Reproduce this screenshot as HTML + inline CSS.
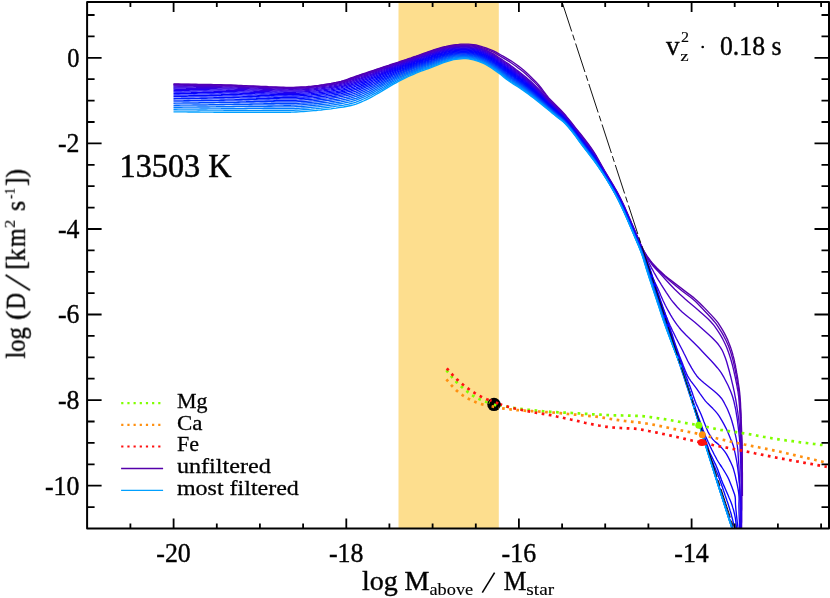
<!DOCTYPE html>
<html><head><meta charset="utf-8"><title>plot</title>
<style>html,body{margin:0;padding:0;background:#fff;}svg{display:block;}</style>
</head><body>
<svg width="830" height="598" viewBox="0 0 830 598">
<rect width="830" height="598" fill="#fff"/>
<rect x="398.5" y="1.9" width="100.3" height="526.6" fill="#fdde8e"/>
<g fill="none" stroke-width="1.35" stroke-linejoin="round">
<path d="M173.5 84.0 L176.0 84.0 L178.5 84.0 L181.0 84.1 L183.5 84.1 L186.0 84.1 L188.5 84.1 L191.0 84.2 L193.5 84.2 L196.0 84.2 L198.5 84.3 L201.0 84.3 L203.5 84.4 L206.0 84.4 L208.5 84.5 L211.0 84.5 L213.5 84.6 L216.0 84.6 L218.5 84.7 L221.0 84.7 L223.5 84.8 L226.0 84.9 L228.5 85.0 L231.0 85.0 L233.5 85.1 L236.0 85.2 L238.5 85.3 L241.0 85.4 L243.5 85.6 L246.0 85.7 L248.5 85.8 L251.0 85.9 L253.5 86.0 L256.0 86.1 L258.5 86.2 L261.0 86.3 L263.5 86.4 L266.0 86.5 L268.5 86.7 L271.0 86.8 L273.5 86.9 L276.0 87.0 L278.5 87.1 L281.0 87.2 L283.5 87.2 L286.0 87.3 L288.5 87.3 L291.0 87.3 L293.5 87.3 L296.0 87.2 L298.5 87.1 L301.0 87.0 L303.5 86.9 L306.0 86.8 L308.5 86.5 L311.0 86.3 L313.5 86.0 L316.0 85.6 L318.5 85.3 L321.0 84.9 L323.5 84.6 L326.0 84.2 L328.5 83.8 L331.0 83.4 L333.5 82.9 L336.0 82.4 L338.5 81.8 L341.0 81.3 L343.5 80.6 L346.0 79.8 L348.5 78.9 L351.0 78.0 L353.5 77.1 L356.0 76.2 L358.5 75.3 L361.0 74.5 L363.5 73.6 L366.0 72.8 L368.5 72.0 L371.0 71.1 L373.5 70.3 L376.0 69.5 L378.5 68.6 L381.0 67.8 L383.5 67.0 L386.0 66.2 L388.5 65.4 L391.0 64.5 L393.5 63.7 L396.0 62.9 L398.5 62.1 L401.0 61.2 L403.5 60.4 L406.0 59.6 L408.5 58.7 L411.0 57.9 L413.5 57.0 L416.0 56.2 L418.5 55.3 L421.0 54.4 L423.5 53.5 L426.0 52.6 L428.5 51.7 L431.0 50.8 L433.5 50.0 L436.0 49.2 L438.5 48.4 L441.0 47.7 L443.5 47.0 L446.0 46.5 L448.5 45.9 L451.0 45.4 L453.5 45.0 L456.0 44.7 L458.5 44.5 L461.0 44.2 L463.5 44.1 L466.0 44.1 L468.5 44.2 L471.0 44.4 L473.5 44.6 L476.0 45.0 L478.5 45.6 L481.0 46.3 L483.5 47.2 L486.0 48.0 L488.5 48.9 L491.0 49.8 L493.5 50.9 L496.0 52.2 L498.5 53.6 L501.0 55.0 L503.5 56.4 L506.0 57.8 L508.5 59.3 L511.0 60.8 L513.5 62.5 L516.0 64.3 L518.5 66.1 L521.0 68.0 L523.5 70.0 L526.0 72.2 L528.5 74.5 L531.0 76.9 L533.5 79.4 L536.0 81.9 L538.5 84.7 L541.0 87.7 L543.5 91.1 L546.0 94.5 L548.5 97.7 L551.0 100.3 L553.5 102.8 L556.0 105.2 L558.5 107.7 L561.0 110.2 L563.5 112.9 L566.0 115.8 L568.5 118.9 L571.0 122.0 L573.5 125.2 L576.0 128.3 L578.5 131.4 L581.0 134.5 L583.5 137.7 L586.0 140.9 L588.5 144.2 L591.0 147.7 L593.5 151.4 L596.0 155.4 L597.4 157.9 L598.8 160.4 L600.2 162.9 L601.6 165.4 L603.0 167.9 L604.4 170.4 L605.9 172.9 L607.4 175.4 L608.9 177.9 L610.4 180.4 L611.9 182.9 L613.4 185.4 L614.8 187.9 L616.3 190.4 L617.7 192.9 L619.0 195.4 L620.3 197.9 L621.5 200.4 L622.7 202.9 L623.9 205.4 L625.1 207.9 L626.2 210.4 L627.3 212.9 L628.4 215.4 L629.5 217.9 L630.6 220.4 L631.6 222.9 L632.7 225.4 L633.8 227.9 L634.9 230.4 L636.0 232.9 L637.1 235.4 L638.1 237.9 L639.2 240.4 L640.2 242.9 L641.3 245.4 L642.5 247.9 L643.6 250.4 L645.0 252.9 L646.6 255.4 L648.4 257.9 L650.2 260.4 L652.2 262.9 L654.5 265.4 L656.9 267.9 L659.5 270.4 L662.2 272.9 L664.9 275.4 L667.9 277.9 L671.0 280.4 L674.2 282.9 L677.5 285.4 L680.8 287.9 L684.0 290.4 L687.3 292.9 L690.7 295.4 L694.0 297.9 L696.9 300.4 L699.6 302.9 L702.1 305.4 L704.5 307.9 L706.9 310.4 L709.2 312.9 L711.6 315.4 L713.9 317.9 L716.1 320.4 L718.1 322.9 L719.7 325.4 L721.3 327.9 L722.8 330.4 L724.2 332.9 L725.5 335.4 L726.7 337.9 L727.9 340.4 L728.9 342.9 L729.9 345.4 L730.8 347.9 L731.6 350.4 L732.4 352.9 L733.0 355.4 L733.7 357.9 L734.3 360.4 L734.8 362.9 L735.4 365.4 L735.8 367.9 L736.3 370.4 L736.7 372.9 L737.2 375.4 L737.6 377.9 L738.0 380.4 L738.3 382.9 L738.7 385.4 L739.1 387.9 L739.4 390.4 L739.7 392.9 L739.9 395.4 L740.1 397.9 L740.3 400.4 L740.5 402.9 L740.6 405.4 L740.7 407.9 L740.9 410.4 L741.0 412.9 L741.1 415.4 L741.1 417.9 L741.2 420.4 L741.3 422.9 L741.4 425.4 L741.5 427.9 L741.6 430.4 L741.7 432.9 L741.8 435.4 L741.9 437.9 L742.0 440.4 L742.1 442.9 L742.1 445.4 L742.2 447.9 L742.2 450.4 L742.2 452.9 L742.2 455.4 L742.3 457.9 L742.3 460.4 L742.3 462.9 L742.3 465.4 L742.3 467.9 L742.3 470.4 L742.4 472.9 L742.4 475.4 L742.4 477.9 L742.4 480.4 L742.4 482.9 L742.4 485.4 L742.4 487.9 L742.4 490.4 L742.4 492.9 L742.4 495.4 L742.4 496.0" stroke="#5500aa"/>
<path d="M173.5 84.4 L176.0 84.4 L178.5 84.4 L181.0 84.5 L183.5 84.5 L186.0 84.5 L188.5 84.5 L191.0 84.6 L193.5 84.6 L196.0 84.6 L198.5 84.7 L201.0 84.7 L203.5 84.8 L206.0 84.8 L208.5 84.9 L211.0 84.9 L213.5 85.0 L216.0 85.0 L218.5 85.1 L221.0 85.2 L223.5 85.2 L226.0 85.3 L228.5 85.4 L231.0 85.4 L233.5 85.5 L236.0 85.6 L238.5 85.7 L241.0 85.8 L243.5 86.0 L246.0 86.1 L248.5 86.2 L251.0 86.3 L253.5 86.4 L256.0 86.5 L258.5 86.6 L261.0 86.7 L263.5 86.8 L266.0 87.0 L268.5 87.1 L271.0 87.2 L273.5 87.3 L276.0 87.4 L278.5 87.5 L281.0 87.6 L283.5 87.6 L286.0 87.7 L288.5 87.7 L291.0 87.7 L293.5 87.7 L296.0 87.6 L298.5 87.5 L301.0 87.4 L303.5 87.3 L306.0 87.2 L308.5 87.0 L311.0 86.7 L313.5 86.4 L316.0 86.1 L318.5 85.7 L321.0 85.4 L323.5 85.0 L326.0 84.6 L328.5 84.2 L331.0 83.8 L333.5 83.3 L336.0 82.8 L338.5 82.3 L341.0 81.7 L343.5 81.0 L346.0 80.2 L348.5 79.4 L351.0 78.5 L353.5 77.6 L356.0 76.7 L358.5 75.8 L361.0 75.0 L363.5 74.1 L366.0 73.3 L368.5 72.4 L371.0 71.6 L373.5 70.8 L376.0 69.9 L378.5 69.1 L381.0 68.2 L383.5 67.4 L386.0 66.6 L388.5 65.8 L391.0 64.9 L393.5 64.1 L396.0 63.3 L398.5 62.4 L401.0 61.6 L403.5 60.8 L406.0 59.9 L408.5 59.1 L411.0 58.3 L413.5 57.4 L416.0 56.6 L418.5 55.7 L421.0 54.8 L423.5 54.0 L426.0 53.1 L428.5 52.2 L431.0 51.3 L433.5 50.5 L436.0 49.7 L438.5 49.0 L441.0 48.2 L443.5 47.6 L446.0 47.0 L448.5 46.5 L451.0 46.0 L453.5 45.6 L456.0 45.3 L458.5 45.1 L461.0 44.9 L463.5 44.8 L466.0 44.8 L468.5 45.0 L471.0 45.2 L473.5 45.5 L476.0 45.8 L478.5 46.5 L481.0 47.3 L483.5 48.1 L486.0 49.1 L488.5 50.0 L491.0 51.1 L493.5 52.2 L496.0 53.6 L498.5 55.1 L501.0 56.6 L503.5 58.1 L506.0 59.6 L508.5 61.1 L511.0 62.7 L513.5 64.5 L516.0 66.3 L518.5 68.2 L521.0 70.0 L523.5 72.0 L526.0 74.2 L528.5 76.5 L531.0 78.9 L533.5 81.3 L536.0 83.9 L538.5 86.5 L541.0 89.5 L543.5 92.7 L546.0 95.9 L548.5 98.9 L551.0 101.5 L553.5 103.9 L556.0 106.3 L558.5 108.7 L561.0 111.2 L563.5 113.8 L566.0 116.7 L568.5 119.7 L571.0 122.8 L573.5 126.0 L576.0 129.1 L578.5 132.2 L581.0 135.4 L583.5 138.6 L586.0 141.8 L588.5 145.1 L591.0 148.6 L593.5 152.3 L596.0 156.2 L597.3 158.7 L598.8 161.2 L600.2 163.7 L601.6 166.2 L603.1 168.7 L604.5 171.2 L606.0 173.7 L607.5 176.2 L609.0 178.7 L610.5 181.2 L612.0 183.7 L613.5 186.2 L615.0 188.7 L616.4 191.2 L617.8 193.7 L619.1 196.2 L620.4 198.7 L621.6 201.2 L622.8 203.7 L624.0 206.2 L625.1 208.7 L626.3 211.2 L627.4 213.7 L628.4 216.2 L629.5 218.7 L630.6 221.2 L631.7 223.7 L632.8 226.2 L633.9 228.7 L635.0 231.2 L636.0 233.7 L637.1 236.2 L638.2 238.7 L639.2 241.2 L640.3 243.7 L641.5 246.2 L642.7 248.7 L643.9 251.2 L645.3 253.7 L646.8 256.2 L648.5 258.7 L650.4 261.2 L652.3 263.7 L654.6 266.2 L657.0 268.7 L659.5 271.2 L662.1 273.7 L664.7 276.2 L667.5 278.7 L670.3 281.2 L673.3 283.7 L676.3 286.2 L679.4 288.7 L682.5 291.2 L685.8 293.7 L689.2 296.2 L692.4 298.7 L695.3 301.2 L697.8 303.7 L700.2 306.2 L702.6 308.7 L704.9 311.2 L707.3 313.7 L709.6 316.2 L711.9 318.7 L714.0 321.2 L716.0 323.7 L717.7 326.2 L719.3 328.7 L720.9 331.2 L722.4 333.7 L723.8 336.2 L725.1 338.7 L726.4 341.2 L727.5 343.7 L728.6 346.2 L729.5 348.7 L730.4 351.2 L731.2 353.7 L731.9 356.2 L732.6 358.7 L733.2 361.2 L733.8 363.7 L734.3 366.2 L734.9 368.7 L735.4 371.2 L735.9 373.7 L736.3 376.2 L736.8 378.7 L737.2 381.2 L737.7 383.7 L738.1 386.2 L738.5 388.7 L738.8 391.2 L739.2 393.7 L739.5 396.2 L739.7 398.7 L739.9 401.2 L740.0 403.7 L740.2 406.2 L740.3 408.7 L740.4 411.2 L740.6 413.7 L740.7 416.2 L740.8 418.7 L740.9 421.2 L740.9 423.7 L741.0 426.2 L741.1 428.7 L741.2 431.2 L741.3 433.7 L741.4 436.2 L741.5 438.7 L741.6 441.2 L741.7 443.7 L741.7 446.2 L741.8 448.7 L741.8 451.2 L741.8 453.7 L741.9 456.2 L741.9 458.7 L741.9 461.2 L742.0 463.7 L742.0 466.2 L742.0 468.7 L742.0 471.2 L742.0 473.7 L742.1 476.2 L742.1 478.7 L742.1 481.2 L742.1 483.7 L742.1 486.2 L742.1 488.7 L742.1 491.2 L742.1 493.7 L742.1 496.0" stroke="#5300b3"/>
<path d="M173.5 85.1 L176.0 85.1 L178.5 85.1 L181.0 85.1 L183.5 85.2 L186.0 85.2 L188.5 85.2 L191.0 85.3 L193.5 85.3 L196.0 85.3 L198.5 85.4 L201.0 85.4 L203.5 85.4 L206.0 85.5 L208.5 85.5 L211.0 85.6 L213.5 85.7 L216.0 85.7 L218.5 85.8 L221.0 85.8 L223.5 85.9 L226.0 86.0 L228.5 86.1 L231.0 86.1 L233.5 86.2 L236.0 86.3 L238.5 86.4 L241.0 86.5 L243.5 86.6 L246.0 86.8 L248.5 86.9 L251.0 87.0 L253.5 87.1 L256.0 87.2 L258.5 87.3 L261.0 87.4 L263.5 87.5 L266.0 87.6 L268.5 87.7 L271.0 87.8 L273.5 87.9 L276.0 88.0 L278.5 88.1 L281.0 88.2 L283.5 88.3 L286.0 88.3 L288.5 88.4 L291.0 88.4 L293.5 88.3 L296.0 88.3 L298.5 88.2 L301.0 88.1 L303.5 88.0 L306.0 87.8 L308.5 87.6 L311.0 87.4 L313.5 87.1 L316.0 86.7 L318.5 86.4 L321.0 86.1 L323.5 85.7 L326.0 85.3 L328.5 84.9 L331.0 84.5 L333.5 84.1 L336.0 83.6 L338.5 83.0 L341.0 82.4 L343.5 81.8 L346.0 81.0 L348.5 80.2 L351.0 79.3 L353.5 78.4 L356.0 77.5 L358.5 76.6 L361.0 75.7 L363.5 74.9 L366.0 74.0 L368.5 73.2 L371.0 72.3 L373.5 71.5 L376.0 70.6 L378.5 69.8 L381.0 68.9 L383.5 68.1 L386.0 67.2 L388.5 66.4 L391.0 65.5 L393.5 64.7 L396.0 63.8 L398.5 63.0 L401.0 62.1 L403.5 61.3 L406.0 60.5 L408.5 59.7 L411.0 58.8 L413.5 58.0 L416.0 57.1 L418.5 56.3 L421.0 55.4 L423.5 54.6 L426.0 53.7 L428.5 52.8 L431.0 52.0 L433.5 51.2 L436.0 50.4 L438.5 49.6 L441.0 48.9 L443.5 48.3 L446.0 47.7 L448.5 47.2 L451.0 46.7 L453.5 46.3 L456.0 46.0 L458.5 45.8 L461.0 45.6 L463.5 45.5 L466.0 45.6 L468.5 45.7 L471.0 46.0 L473.5 46.3 L476.0 46.7 L478.5 47.3 L481.0 48.2 L483.5 49.1 L486.0 50.1 L488.5 51.3 L491.0 52.6 L493.5 53.9 L496.0 55.5 L498.5 57.2 L501.0 58.9 L503.5 60.6 L506.0 62.2 L508.5 63.9 L511.0 65.7 L513.5 67.5 L516.0 69.5 L518.5 71.4 L521.0 73.3 L523.5 75.2 L526.0 77.2 L528.5 79.4 L531.0 81.6 L533.5 84.0 L536.0 86.4 L538.5 88.9 L541.0 91.5 L543.5 94.3 L546.0 97.2 L548.5 99.8 L551.0 102.3 L553.5 104.7 L556.0 107.1 L558.5 109.4 L561.0 111.9 L563.5 114.5 L566.0 117.3 L568.5 120.3 L571.0 123.4 L573.5 126.6 L576.0 129.7 L578.5 132.9 L581.0 136.0 L583.5 139.2 L586.0 142.5 L588.5 145.8 L591.0 149.2 L593.5 152.9 L596.0 156.7 L597.3 159.2 L598.8 161.7 L600.2 164.2 L601.7 166.7 L603.1 169.2 L604.6 171.7 L606.1 174.2 L607.6 176.7 L609.1 179.2 L610.7 181.7 L612.1 184.2 L613.6 186.7 L615.1 189.2 L616.5 191.7 L617.9 194.2 L619.2 196.7 L620.4 199.2 L621.7 201.7 L622.9 204.2 L624.0 206.7 L625.2 209.2 L626.3 211.7 L627.4 214.2 L628.5 216.7 L629.6 219.2 L630.7 221.7 L631.7 224.2 L632.8 226.7 L633.9 229.2 L635.0 231.7 L636.1 234.2 L637.1 236.7 L638.2 239.2 L639.3 241.7 L640.4 244.2 L641.6 246.7 L642.7 249.2 L643.9 251.7 L645.2 254.2 L646.6 256.7 L648.1 259.2 L649.8 261.7 L651.7 264.2 L653.8 266.7 L656.1 269.2 L658.5 271.7 L660.8 274.2 L663.1 276.7 L665.3 279.2 L667.6 281.7 L669.9 284.2 L672.3 286.7 L674.7 289.2 L677.3 291.7 L679.9 294.2 L682.7 296.7 L685.4 299.2 L688.3 301.7 L691.3 304.2 L694.3 306.7 L697.2 309.2 L700.0 311.7 L702.9 314.2 L705.7 316.7 L708.4 319.2 L710.8 321.7 L713.0 324.2 L714.9 326.7 L716.6 329.2 L718.3 331.7 L719.9 334.2 L721.4 336.7 L722.8 339.2 L724.1 341.7 L725.3 344.2 L726.4 346.7 L727.4 349.2 L728.3 351.7 L729.2 354.2 L730.0 356.7 L730.8 359.2 L731.5 361.7 L732.2 364.2 L732.8 366.7 L733.4 369.2 L734.0 371.7 L734.5 374.2 L735.1 376.7 L735.6 379.2 L736.1 381.7 L736.6 384.2 L737.1 386.7 L737.5 389.2 L738.0 391.7 L738.3 394.2 L738.7 396.7 L738.9 399.2 L739.1 401.7 L739.3 404.2 L739.5 406.7 L739.7 409.2 L739.8 411.7 L740.0 414.2 L740.1 416.7 L740.2 419.2 L740.4 421.7 L740.5 424.2 L740.6 426.7 L740.7 429.2 L740.8 431.7 L740.9 434.2 L741.0 436.7 L741.1 439.2 L741.2 441.7 L741.3 444.2 L741.3 446.7 L741.4 449.2 L741.4 451.7 L741.5 454.2 L741.5 456.7 L741.5 459.2 L741.6 461.7 L741.6 464.2 L741.6 466.7 L741.7 469.2 L741.7 471.7 L741.7 474.2 L741.7 476.7 L741.8 479.2 L741.8 481.7 L741.8 484.2 L741.8 486.7 L741.8 489.2 L741.8 491.7 L741.8 494.2 L741.8 496.7 L741.8 499.2 L741.8 501.7 L741.8 504.2 L741.8 506.7 L741.8 509.2 L741.7 511.7 L741.7 514.2 L741.7 516.7 L741.7 519.2 L741.7 521.7 L741.6 524.2 L741.6 526.7 L741.6 528.5" stroke="#5100bc"/>
<path d="M173.5 85.9 L176.0 85.9 L178.5 86.0 L181.0 86.0 L183.5 86.0 L186.0 86.0 L188.5 86.1 L191.0 86.1 L193.5 86.2 L196.0 86.2 L198.5 86.2 L201.0 86.3 L203.5 86.3 L206.0 86.4 L208.5 86.4 L211.0 86.5 L213.5 86.5 L216.0 86.6 L218.5 86.6 L221.0 86.7 L223.5 86.8 L226.0 86.8 L228.5 86.9 L231.0 87.0 L233.5 87.1 L236.0 87.2 L238.5 87.3 L241.0 87.4 L243.5 87.5 L246.0 87.6 L248.5 87.7 L251.0 87.8 L253.5 87.9 L256.0 88.1 L258.5 88.2 L261.0 88.2 L263.5 88.3 L266.0 88.5 L268.5 88.6 L271.0 88.7 L273.5 88.8 L276.0 88.9 L278.5 89.0 L281.0 89.0 L283.5 89.1 L286.0 89.1 L288.5 89.2 L291.0 89.2 L293.5 89.2 L296.0 89.1 L298.5 89.0 L301.0 88.9 L303.5 88.8 L306.0 88.6 L308.5 88.4 L311.0 88.2 L313.5 87.9 L316.0 87.6 L318.5 87.2 L321.0 86.9 L323.5 86.5 L326.0 86.2 L328.5 85.8 L331.0 85.4 L333.5 84.9 L336.0 84.4 L338.5 83.9 L341.0 83.3 L343.5 82.6 L346.0 81.9 L348.5 81.1 L351.0 80.2 L353.5 79.3 L356.0 78.4 L358.5 77.5 L361.0 76.7 L363.5 75.8 L366.0 75.0 L368.5 74.1 L371.0 73.2 L373.5 72.4 L376.0 71.5 L378.5 70.6 L381.0 69.7 L383.5 68.9 L386.0 68.0 L388.5 67.1 L391.0 66.3 L393.5 65.4 L396.0 64.5 L398.5 63.7 L401.0 62.8 L403.5 62.0 L406.0 61.1 L408.5 60.3 L411.0 59.5 L413.5 58.6 L416.0 57.8 L418.5 56.9 L421.0 56.1 L423.5 55.2 L426.0 54.4 L428.5 53.5 L431.0 52.7 L433.5 51.9 L436.0 51.1 L438.5 50.3 L441.0 49.6 L443.5 49.0 L446.0 48.4 L448.5 47.9 L451.0 47.4 L453.5 47.0 L456.0 46.7 L458.5 46.5 L461.0 46.4 L463.5 46.3 L466.0 46.3 L468.5 46.5 L471.0 46.8 L473.5 47.1 L476.0 47.5 L478.5 48.2 L481.0 49.0 L483.5 50.0 L486.0 51.0 L488.5 52.2 L491.0 53.5 L493.5 54.9 L496.0 56.6 L498.5 58.3 L501.0 60.0 L503.5 61.7 L506.0 63.4 L508.5 65.1 L511.0 66.8 L513.5 68.7 L516.0 70.6 L518.5 72.5 L521.0 74.4 L523.5 76.3 L526.0 78.4 L528.5 80.5 L531.0 82.7 L533.5 85.0 L536.0 87.4 L538.5 89.9 L541.0 92.4 L543.5 95.2 L546.0 98.0 L548.5 100.6 L551.0 103.1 L553.5 105.4 L556.0 107.8 L558.5 110.1 L561.0 112.5 L563.5 115.0 L566.0 117.8 L568.5 120.8 L571.0 124.0 L573.5 127.1 L576.0 130.2 L578.5 133.4 L581.0 136.6 L583.5 139.8 L586.0 143.1 L588.5 146.4 L591.0 149.8 L593.5 153.4 L596.0 157.3 L597.3 159.8 L598.8 162.3 L600.3 164.8 L601.7 167.3 L603.2 169.8 L604.7 172.3 L606.2 174.8 L607.7 177.3 L609.2 179.8 L610.8 182.3 L612.2 184.8 L613.7 187.3 L615.2 189.8 L616.6 192.3 L617.9 194.8 L619.2 197.3 L620.5 199.8 L621.7 202.3 L622.9 204.8 L624.1 207.3 L625.2 209.8 L626.3 212.3 L627.4 214.8 L628.5 217.3 L629.6 219.8 L630.7 222.3 L631.8 224.8 L632.9 227.3 L634.0 229.8 L635.0 232.3 L636.1 234.8 L637.2 237.3 L638.2 239.8 L639.3 242.3 L640.4 244.8 L641.6 247.3 L642.8 249.8 L643.9 252.3 L645.0 254.8 L646.2 257.3 L647.4 259.8 L648.6 262.3 L649.9 264.8 L651.2 267.3 L652.6 269.8 L653.9 272.3 L655.4 274.8 L656.8 277.3 L658.3 279.8 L659.9 282.3 L661.4 284.8 L663.0 287.3 L664.6 289.8 L666.2 292.3 L667.9 294.8 L669.5 297.3 L671.3 299.8 L673.2 302.3 L675.3 304.8 L677.4 307.3 L679.8 309.8 L682.4 312.3 L685.4 314.8 L688.5 317.3 L691.7 319.8 L694.8 322.3 L697.7 324.8 L700.5 327.3 L703.3 329.8 L706.1 332.3 L708.9 334.8 L711.6 337.3 L714.1 339.8 L716.5 342.3 L718.6 344.8 L720.4 347.3 L721.9 349.8 L723.1 352.3 L724.1 354.8 L725.1 357.3 L726.0 359.8 L726.8 362.3 L727.5 364.8 L728.2 367.3 L728.9 369.8 L729.6 372.3 L730.2 374.8 L730.9 377.3 L731.5 379.8 L732.1 382.3 L732.7 384.8 L733.3 387.3 L733.8 389.8 L734.4 392.3 L734.8 394.8 L735.3 397.3 L735.8 399.8 L736.2 402.3 L736.6 404.8 L737.0 407.3 L737.4 409.8 L737.8 412.3 L738.1 414.8 L738.4 417.3 L738.8 419.8 L739.0 422.3 L739.3 424.8 L739.5 427.3 L739.7 429.8 L739.9 432.3 L740.2 434.8 L740.3 437.3 L740.5 439.8 L740.7 442.3 L740.8 444.8 L740.9 447.3 L741.0 449.8 L741.0 452.3 L741.1 454.8 L741.2 457.3 L741.2 459.8 L741.2 462.3 L741.3 464.8 L741.3 467.3 L741.4 469.8 L741.4 472.3 L741.4 474.8 L741.4 477.3 L741.5 479.8 L741.5 482.3 L741.5 484.8 L741.5 487.3 L741.5 489.8 L741.5 492.3 L741.5 494.8 L741.5 497.3 L741.5 499.8 L741.5 502.3 L741.5 504.8 L741.5 507.3 L741.5 509.8 L741.4 512.3 L741.4 514.8 L741.4 517.3 L741.4 519.8 L741.4 522.3 L741.3 524.8 L741.3 527.3 L741.3 528.5" stroke="#4800c7"/>
<path d="M173.5 86.9 L176.0 86.9 L178.5 87.0 L181.0 87.0 L183.5 87.0 L186.0 87.0 L188.5 87.1 L191.0 87.1 L193.5 87.1 L196.0 87.2 L198.5 87.2 L201.0 87.3 L203.5 87.3 L206.0 87.4 L208.5 87.4 L211.0 87.5 L213.5 87.5 L216.0 87.6 L218.5 87.6 L221.0 87.7 L223.5 87.8 L226.0 87.8 L228.5 87.9 L231.0 88.0 L233.5 88.1 L236.0 88.2 L238.5 88.3 L241.0 88.4 L243.5 88.5 L246.0 88.6 L248.5 88.7 L251.0 88.8 L253.5 88.9 L256.0 89.0 L258.5 89.1 L261.0 89.2 L263.5 89.3 L266.0 89.4 L268.5 89.5 L271.0 89.6 L273.5 89.7 L276.0 89.8 L278.5 89.9 L281.0 90.0 L283.5 90.0 L286.0 90.1 L288.5 90.1 L291.0 90.1 L293.5 90.1 L296.0 90.0 L298.5 89.9 L301.0 89.9 L303.5 89.7 L306.0 89.6 L308.5 89.4 L311.0 89.1 L313.5 88.8 L316.0 88.5 L318.5 88.2 L321.0 87.8 L323.5 87.5 L326.0 87.1 L328.5 86.8 L331.0 86.3 L333.5 85.9 L336.0 85.4 L338.5 84.9 L341.0 84.3 L343.5 83.7 L346.0 82.9 L348.5 82.1 L351.0 81.3 L353.5 80.4 L356.0 79.5 L358.5 78.6 L361.0 77.8 L363.5 76.9 L366.0 76.0 L368.5 75.1 L371.0 74.3 L373.5 73.4 L376.0 72.5 L378.5 71.6 L381.0 70.7 L383.5 69.8 L386.0 68.9 L388.5 68.0 L391.0 67.1 L393.5 66.2 L396.0 65.3 L398.5 64.4 L401.0 63.6 L403.5 62.7 L406.0 61.9 L408.5 61.0 L411.0 60.2 L413.5 59.4 L416.0 58.5 L418.5 57.7 L421.0 56.8 L423.5 56.0 L426.0 55.1 L428.5 54.3 L431.0 53.4 L433.5 52.7 L436.0 51.9 L438.5 51.1 L441.0 50.4 L443.5 49.7 L446.0 49.2 L448.5 48.6 L451.0 48.1 L453.5 47.7 L456.0 47.5 L458.5 47.3 L461.0 47.1 L463.5 47.0 L466.0 47.1 L468.5 47.3 L471.0 47.6 L473.5 47.9 L476.0 48.4 L478.5 49.0 L481.0 49.9 L483.5 50.8 L486.0 51.9 L488.5 53.1 L491.0 54.5 L493.5 55.9 L496.0 57.5 L498.5 59.3 L501.0 61.0 L503.5 62.7 L506.0 64.5 L508.5 66.2 L511.0 68.0 L513.5 69.8 L516.0 71.7 L518.5 73.6 L521.0 75.5 L523.5 77.4 L526.0 79.4 L528.5 81.5 L531.0 83.8 L533.5 86.0 L536.0 88.4 L538.5 90.8 L541.0 93.3 L543.5 96.1 L546.0 98.8 L548.5 101.4 L551.0 103.8 L553.5 106.1 L556.0 108.4 L558.5 110.7 L561.0 113.1 L563.5 115.6 L566.0 118.4 L568.5 121.4 L571.0 124.5 L573.5 127.6 L576.0 130.7 L578.5 134.0 L581.0 137.2 L583.5 140.4 L586.0 143.7 L588.5 147.0 L591.0 150.3 L593.5 153.9 L596.0 157.7 L597.3 160.2 L598.8 162.7 L600.3 165.2 L601.8 167.7 L603.3 170.2 L604.8 172.7 L606.3 175.2 L607.8 177.7 L609.3 180.2 L610.9 182.7 L612.3 185.2 L613.8 187.7 L615.2 190.2 L616.6 192.7 L618.0 195.2 L619.3 197.7 L620.6 200.2 L621.8 202.7 L623.0 205.2 L624.1 207.7 L625.3 210.2 L626.4 212.7 L627.5 215.2 L628.6 217.7 L629.7 220.2 L630.7 222.7 L631.8 225.2 L632.9 227.7 L634.0 230.2 L635.1 232.7 L636.1 235.2 L637.2 237.7 L638.3 240.2 L639.3 242.7 L640.5 245.2 L641.6 247.7 L642.8 250.2 L643.4 252.7 L644.1 255.2 L644.8 257.7 L645.6 260.2 L646.5 262.7 L647.4 265.2 L648.4 267.7 L649.4 270.2 L650.5 272.7 L651.6 275.2 L652.7 277.7 L653.9 280.2 L655.1 282.7 L656.3 285.2 L657.5 287.7 L658.6 290.2 L659.7 292.7 L660.7 295.2 L661.8 297.7 L662.9 300.2 L664.1 302.7 L665.3 305.2 L666.6 307.7 L667.9 310.2 L669.3 312.7 L670.7 315.2 L672.2 317.7 L673.8 320.2 L675.5 322.7 L677.3 325.2 L679.3 327.7 L681.4 330.2 L683.8 332.7 L686.2 335.2 L688.8 337.7 L691.3 340.2 L693.9 342.7 L696.4 345.2 L698.9 347.7 L701.2 350.2 L703.5 352.7 L705.9 355.2 L708.3 357.7 L710.7 360.2 L713.0 362.7 L715.2 365.2 L717.3 367.7 L719.3 370.2 L721.1 372.7 L722.6 375.2 L724.1 377.7 L725.4 380.2 L726.7 382.7 L728.0 385.2 L729.1 387.7 L730.2 390.2 L731.2 392.7 L732.1 395.2 L732.9 397.7 L733.6 400.2 L734.2 402.7 L734.7 405.2 L735.3 407.7 L735.8 410.2 L736.2 412.7 L736.6 415.2 L737.0 417.7 L737.4 420.2 L737.7 422.7 L738.0 425.2 L738.3 427.7 L738.6 430.2 L738.9 432.7 L739.1 435.2 L739.4 437.7 L739.6 440.2 L739.8 442.7 L740.0 445.2 L740.1 447.7 L740.2 450.2 L740.3 452.7 L740.4 455.2 L740.5 457.7 L740.6 460.2 L740.7 462.7 L740.8 465.2 L740.8 467.7 L740.9 470.2 L741.0 472.7 L741.0 475.2 L741.1 477.7 L741.1 480.2 L741.2 482.7 L741.2 485.2 L741.2 487.7 L741.2 490.2 L741.2 492.7 L741.2 495.2 L741.2 497.7 L741.2 500.2 L741.2 502.7 L741.2 505.2 L741.2 507.7 L741.2 510.2 L741.2 512.7 L741.1 515.2 L741.1 517.7 L741.1 520.2 L741.1 522.7 L741.0 525.2 L741.0 527.7 L741.0 528.5" stroke="#3c00d5"/>
<path d="M173.5 88.0 L176.0 88.0 L178.5 88.1 L181.0 88.1 L183.5 88.1 L186.0 88.2 L188.5 88.2 L191.0 88.2 L193.5 88.3 L196.0 88.3 L198.5 88.3 L201.0 88.4 L203.5 88.4 L206.0 88.5 L208.5 88.5 L211.0 88.6 L213.5 88.6 L216.0 88.7 L218.5 88.8 L221.0 88.8 L223.5 88.9 L226.0 88.9 L228.5 89.0 L231.0 89.1 L233.5 89.2 L236.0 89.3 L238.5 89.4 L241.0 89.5 L243.5 89.6 L246.0 89.7 L248.5 89.8 L251.0 89.9 L253.5 90.0 L256.0 90.1 L258.5 90.2 L261.0 90.3 L263.5 90.4 L266.0 90.5 L268.5 90.6 L271.0 90.7 L273.5 90.8 L276.0 90.8 L278.5 90.9 L281.0 91.0 L283.5 91.1 L286.0 91.1 L288.5 91.1 L291.0 91.1 L293.5 91.1 L296.0 91.1 L298.5 91.0 L301.0 90.9 L303.5 90.8 L306.0 90.6 L308.5 90.4 L311.0 90.1 L313.5 89.9 L316.0 89.5 L318.5 89.2 L321.0 88.9 L323.5 88.5 L326.0 88.2 L328.5 87.8 L331.0 87.4 L333.5 87.0 L336.0 86.5 L338.5 86.0 L341.0 85.4 L343.5 84.8 L346.0 84.0 L348.5 83.3 L351.0 82.4 L353.5 81.6 L356.0 80.7 L358.5 79.8 L361.0 78.9 L363.5 78.0 L366.0 77.2 L368.5 76.3 L371.0 75.4 L373.5 74.5 L376.0 73.5 L378.5 72.6 L381.0 71.7 L383.5 70.8 L386.0 69.9 L388.5 68.9 L391.0 68.0 L393.5 67.1 L396.0 66.2 L398.5 65.3 L401.0 64.4 L403.5 63.5 L406.0 62.7 L408.5 61.8 L411.0 61.0 L413.5 60.1 L416.0 59.3 L418.5 58.4 L421.0 57.6 L423.5 56.7 L426.0 55.9 L428.5 55.1 L431.0 54.2 L433.5 53.5 L436.0 52.7 L438.5 51.9 L441.0 51.1 L443.5 50.5 L446.0 49.9 L448.5 49.4 L451.0 48.9 L453.5 48.5 L456.0 48.2 L458.5 48.0 L461.0 47.8 L463.5 47.8 L466.0 47.8 L468.5 48.1 L471.0 48.4 L473.5 48.7 L476.0 49.2 L478.5 49.9 L481.0 50.8 L483.5 51.7 L486.0 52.8 L488.5 54.1 L491.0 55.4 L493.5 56.9 L496.0 58.5 L498.5 60.3 L501.0 62.0 L503.5 63.8 L506.0 65.5 L508.5 67.3 L511.0 69.0 L513.5 70.9 L516.0 72.8 L518.5 74.7 L521.0 76.5 L523.5 78.4 L526.0 80.4 L528.5 82.5 L531.0 84.7 L533.5 87.0 L536.0 89.3 L538.5 91.7 L541.0 94.2 L543.5 96.8 L546.0 99.5 L548.5 102.1 L551.0 104.4 L553.5 106.8 L556.0 109.0 L558.5 111.3 L561.0 113.6 L563.5 116.1 L566.0 118.9 L568.5 121.8 L571.0 124.9 L573.5 128.1 L576.0 131.2 L578.5 134.5 L581.0 137.7 L583.5 140.9 L586.0 144.2 L588.5 147.5 L591.0 150.9 L593.5 154.4 L596.0 158.2 L597.3 160.7 L598.8 163.2 L600.3 165.7 L601.8 168.2 L603.3 170.7 L604.9 173.2 L606.4 175.7 L607.9 178.2 L609.4 180.7 L610.9 183.2 L612.4 185.7 L613.9 188.2 L615.3 190.7 L616.7 193.2 L618.0 195.7 L619.3 198.2 L620.6 200.7 L621.8 203.2 L623.0 205.7 L624.2 208.2 L625.3 210.7 L626.4 213.2 L627.5 215.7 L628.6 218.2 L629.7 220.7 L630.8 223.2 L631.9 225.7 L632.9 228.2 L634.0 230.7 L635.1 233.2 L636.2 235.7 L637.2 238.2 L638.3 240.7 L639.4 243.2 L640.5 245.7 L641.7 248.2 L642.7 250.7 L643.3 253.2 L643.9 255.7 L644.5 258.2 L645.2 260.7 L645.9 263.2 L646.7 265.7 L647.5 268.2 L648.3 270.7 L649.2 273.2 L650.0 275.7 L650.9 278.2 L651.8 280.7 L652.7 283.2 L653.6 285.7 L654.6 288.2 L655.6 290.7 L656.6 293.2 L657.7 295.7 L658.8 298.2 L659.9 300.7 L660.9 303.2 L661.9 305.7 L662.9 308.2 L663.9 310.7 L664.9 313.2 L665.9 315.7 L667.0 318.2 L668.0 320.7 L669.1 323.2 L670.2 325.7 L671.4 328.2 L672.5 330.7 L673.8 333.2 L675.0 335.7 L676.2 338.2 L677.5 340.7 L678.8 343.2 L680.1 345.7 L681.4 348.2 L682.7 350.7 L683.9 353.2 L685.2 355.7 L686.4 358.2 L687.6 360.7 L688.9 363.2 L690.3 365.7 L691.7 368.2 L693.2 370.7 L694.8 373.2 L696.6 375.7 L698.8 378.2 L701.5 380.7 L704.4 383.2 L707.5 385.7 L710.6 388.2 L713.7 390.7 L716.6 393.2 L719.2 395.7 L721.4 398.2 L723.0 400.7 L724.4 403.2 L725.7 405.7 L727.0 408.2 L728.1 410.7 L729.1 413.2 L730.1 415.7 L731.0 418.2 L731.8 420.7 L732.5 423.2 L733.2 425.7 L733.8 428.2 L734.4 430.7 L735.0 433.2 L735.6 435.7 L736.1 438.2 L736.6 440.7 L737.0 443.2 L737.3 445.7 L737.6 448.2 L737.9 450.7 L738.1 453.2 L738.2 455.7 L738.4 458.2 L738.6 460.7 L738.7 463.2 L738.9 465.7 L739.0 468.2 L739.1 470.7 L739.2 473.2 L739.3 475.7 L739.4 478.2 L739.5 480.7 L739.6 483.2 L739.7 485.7 L739.7 488.2 L739.8 490.7 L739.9 493.2 L740.0 495.7 L740.0 498.2 L740.1 500.7 L740.2 503.2 L740.2 505.7 L740.3 508.2 L740.3 510.7 L740.4 513.2 L740.4 515.7 L740.5 518.2 L740.5 520.7 L740.6 523.2 L740.6 525.7 L740.6 528.2 L740.6 528.5" stroke="#3000e2"/>
<path d="M173.5 89.2 L176.0 89.3 L178.5 89.3 L181.0 89.3 L183.5 89.3 L186.0 89.4 L188.5 89.4 L191.0 89.4 L193.5 89.5 L196.0 89.5 L198.5 89.6 L201.0 89.6 L203.5 89.7 L206.0 89.7 L208.5 89.7 L211.0 89.8 L213.5 89.9 L216.0 89.9 L218.5 90.0 L221.0 90.0 L223.5 90.1 L226.0 90.2 L228.5 90.2 L231.0 90.3 L233.5 90.4 L236.0 90.5 L238.5 90.5 L241.0 90.6 L243.5 90.7 L246.0 90.8 L248.5 90.9 L251.0 91.1 L253.5 91.2 L256.0 91.2 L258.5 91.3 L261.0 91.4 L263.5 91.5 L266.0 91.6 L268.5 91.7 L271.0 91.8 L273.5 91.9 L276.0 92.0 L278.5 92.1 L281.0 92.1 L283.5 92.2 L286.0 92.2 L288.5 92.3 L291.0 92.3 L293.5 92.2 L296.0 92.2 L298.5 92.1 L301.0 92.0 L303.5 91.9 L306.0 91.7 L308.5 91.5 L311.0 91.2 L313.5 91.0 L316.0 90.7 L318.5 90.3 L321.0 90.0 L323.5 89.7 L326.0 89.3 L328.5 89.0 L331.0 88.6 L333.5 88.1 L336.0 87.6 L338.5 87.1 L341.0 86.6 L343.5 86.0 L346.0 85.3 L348.5 84.5 L351.0 83.7 L353.5 82.8 L356.0 82.0 L358.5 81.1 L361.0 80.2 L363.5 79.3 L366.0 78.4 L368.5 77.5 L371.0 76.6 L373.5 75.6 L376.0 74.7 L378.5 73.7 L381.0 72.8 L383.5 71.8 L386.0 70.9 L388.5 69.9 L391.0 69.0 L393.5 68.0 L396.0 67.1 L398.5 66.2 L401.0 65.3 L403.5 64.4 L406.0 63.5 L408.5 62.7 L411.0 61.8 L413.5 61.0 L416.0 60.1 L418.5 59.3 L421.0 58.4 L423.5 57.6 L426.0 56.7 L428.5 55.9 L431.0 55.1 L433.5 54.3 L436.0 53.5 L438.5 52.7 L441.0 51.9 L443.5 51.3 L446.0 50.7 L448.5 50.2 L451.0 49.7 L453.5 49.2 L456.0 49.0 L458.5 48.8 L461.0 48.6 L463.5 48.5 L466.0 48.6 L468.5 48.8 L471.0 49.2 L473.5 49.5 L476.0 50.0 L478.5 50.7 L481.0 51.6 L483.5 52.6 L486.0 53.7 L488.5 55.0 L491.0 56.3 L493.5 57.8 L496.0 59.5 L498.5 61.2 L501.0 63.0 L503.5 64.8 L506.0 66.6 L508.5 68.3 L511.0 70.1 L513.5 71.9 L516.0 73.8 L518.5 75.7 L521.0 77.5 L523.5 79.4 L526.0 81.4 L528.5 83.5 L531.0 85.7 L533.5 87.9 L536.0 90.2 L538.5 92.6 L541.0 95.0 L543.5 97.6 L546.0 100.2 L548.5 102.7 L551.0 105.1 L553.5 107.4 L556.0 109.6 L558.5 111.9 L561.0 114.2 L563.5 116.6 L566.0 119.3 L568.5 122.3 L571.0 125.4 L573.5 128.5 L576.0 131.7 L578.5 135.0 L581.0 138.2 L583.5 141.4 L586.0 144.7 L588.5 148.0 L591.0 151.4 L593.5 154.9 L596.0 158.6 L597.3 161.1 L598.8 163.6 L600.4 166.1 L601.9 168.6 L603.4 171.1 L605.0 173.6 L606.5 176.1 L608.0 178.6 L609.5 181.1 L611.0 183.6 L612.5 186.1 L614.0 188.6 L615.4 191.1 L616.8 193.6 L618.1 196.1 L619.4 198.6 L620.6 201.1 L621.9 203.6 L623.0 206.1 L624.2 208.6 L625.3 211.1 L626.4 213.6 L627.5 216.1 L628.6 218.6 L629.7 221.1 L630.8 223.6 L631.9 226.1 L633.0 228.6 L634.0 231.1 L635.1 233.6 L636.2 236.1 L637.2 238.6 L638.3 241.1 L639.4 243.6 L640.4 246.1 L641.5 248.6 L642.5 251.1 L643.6 253.6 L644.6 256.1 L645.7 258.6 L646.7 261.1 L647.8 263.6 L648.9 266.1 L649.9 268.6 L650.7 271.1 L651.6 273.6 L652.4 276.1 L653.2 278.6 L654.1 281.1 L654.9 283.6 L655.8 286.1 L656.6 288.6 L657.5 291.1 L658.3 293.6 L659.2 296.1 L660.0 298.6 L660.8 301.1 L661.7 303.6 L662.6 306.1 L663.4 308.6 L664.3 311.1 L665.2 313.6 L666.0 316.1 L666.9 318.6 L667.7 321.1 L668.6 323.6 L669.4 326.1 L670.2 328.6 L671.0 331.1 L671.8 333.6 L672.7 336.1 L673.5 338.6 L674.3 341.1 L675.1 343.6 L675.9 346.1 L676.8 348.6 L677.7 351.1 L678.6 353.6 L679.5 356.1 L680.5 358.6 L681.5 361.1 L682.5 363.6 L683.4 366.1 L684.4 368.6 L685.4 371.1 L686.5 373.6 L687.7 376.1 L689.2 378.6 L690.9 381.1 L692.8 383.6 L694.7 386.1 L696.6 388.6 L698.3 391.1 L700.0 393.6 L701.8 396.1 L703.6 398.6 L705.5 401.1 L707.8 403.6 L710.3 406.1 L712.9 408.6 L715.3 411.1 L717.4 413.6 L719.2 416.1 L720.7 418.6 L722.2 421.1 L723.6 423.6 L724.9 426.1 L726.2 428.6 L727.3 431.1 L728.4 433.6 L729.4 436.1 L730.4 438.6 L731.5 441.1 L732.5 443.6 L733.4 446.1 L734.1 448.6 L734.6 451.1 L735.2 453.6 L735.7 456.1 L736.2 458.6 L736.7 461.1 L737.1 463.6 L737.4 466.1 L737.8 468.6 L738.1 471.1 L738.4 473.6 L738.7 476.1 L738.9 478.6 L739.1 481.1 L739.4 483.6 L739.5 486.1 L739.7 488.6 L739.9 491.1 L740.0 493.6 L740.2 496.1 L740.5 498.6 L740.7 501.1 L740.9 503.6 L741.1 506.1 L741.2 508.6 L741.2 511.1 L741.3 513.6 L741.3 516.1 L741.3 518.6 L741.3 521.1 L741.2 523.6 L741.1 526.1 L741.0 528.5" stroke="#2400ed"/>
<path d="M173.5 90.5 L176.0 90.6 L178.5 90.6 L181.0 90.6 L183.5 90.7 L186.0 90.7 L188.5 90.7 L191.0 90.8 L193.5 90.8 L196.0 90.8 L198.5 90.9 L201.0 90.9 L203.5 91.0 L206.0 91.0 L208.5 91.1 L211.0 91.1 L213.5 91.2 L216.0 91.2 L218.5 91.3 L221.0 91.3 L223.5 91.4 L226.0 91.5 L228.5 91.5 L231.0 91.6 L233.5 91.7 L236.0 91.7 L238.5 91.8 L241.0 91.9 L243.5 92.0 L246.0 92.1 L248.5 92.2 L251.0 92.3 L253.5 92.4 L256.0 92.5 L258.5 92.6 L261.0 92.7 L263.5 92.7 L266.0 92.8 L268.5 92.9 L271.0 93.0 L273.5 93.1 L276.0 93.2 L278.5 93.3 L281.0 93.3 L283.5 93.4 L286.0 93.4 L288.5 93.5 L291.0 93.5 L293.5 93.4 L296.0 93.4 L298.5 93.3 L301.0 93.2 L303.5 93.1 L306.0 92.9 L308.5 92.7 L311.0 92.4 L313.5 92.2 L316.0 91.9 L318.5 91.6 L321.0 91.2 L323.5 90.9 L326.0 90.5 L328.5 90.2 L331.0 89.8 L333.5 89.3 L336.0 88.9 L338.5 88.4 L341.0 87.9 L343.5 87.2 L346.0 86.6 L348.5 85.8 L351.0 85.0 L353.5 84.2 L356.0 83.3 L358.5 82.4 L361.0 81.5 L363.5 80.6 L366.0 79.7 L368.5 78.8 L371.0 77.8 L373.5 76.9 L376.0 75.9 L378.5 74.9 L381.0 74.0 L383.5 73.0 L386.0 72.0 L388.5 71.0 L391.0 70.0 L393.5 69.0 L396.0 68.1 L398.5 67.1 L401.0 66.2 L403.5 65.3 L406.0 64.4 L408.5 63.5 L411.0 62.7 L413.5 61.8 L416.0 61.0 L418.5 60.1 L421.0 59.3 L423.5 58.4 L426.0 57.6 L428.5 56.7 L431.0 55.9 L433.5 55.1 L436.0 54.3 L438.5 53.5 L441.0 52.8 L443.5 52.1 L446.0 51.5 L448.5 50.9 L451.0 50.4 L453.5 50.0 L456.0 49.7 L458.5 49.5 L461.0 49.4 L463.5 49.3 L466.0 49.4 L468.5 49.6 L471.0 49.9 L473.5 50.3 L476.0 50.8 L478.5 51.6 L481.0 52.5 L483.5 53.4 L486.0 54.6 L488.5 55.9 L491.0 57.3 L493.5 58.7 L496.0 60.4 L498.5 62.2 L501.0 63.9 L503.5 65.8 L506.0 67.6 L508.5 69.4 L511.0 71.1 L513.5 72.9 L516.0 74.8 L518.5 76.6 L521.0 78.5 L523.5 80.3 L526.0 82.3 L528.5 84.4 L531.0 86.6 L533.5 88.8 L536.0 91.1 L538.5 93.4 L541.0 95.8 L543.5 98.3 L546.0 100.9 L548.5 103.4 L551.0 105.7 L553.5 108.0 L556.0 110.2 L558.5 112.4 L561.0 114.7 L563.5 117.1 L566.0 119.8 L568.5 122.7 L571.0 125.8 L573.5 128.9 L576.0 132.1 L578.5 135.4 L581.0 138.7 L583.5 141.9 L586.0 145.2 L588.5 148.5 L591.0 151.8 L593.5 155.4 L596.0 159.1 L597.3 161.6 L598.9 164.1 L600.4 166.6 L602.0 169.1 L603.5 171.6 L605.0 174.1 L606.6 176.6 L608.1 179.1 L609.6 181.6 L611.1 184.1 L612.6 186.6 L614.0 189.1 L615.5 191.6 L616.8 194.1 L618.2 196.6 L619.4 199.1 L620.7 201.6 L621.9 204.1 L623.1 206.6 L624.2 209.1 L625.4 211.6 L626.5 214.1 L627.6 216.6 L628.7 219.1 L629.8 221.6 L630.8 224.1 L631.9 226.6 L633.0 229.1 L634.1 231.6 L635.1 234.1 L636.2 236.6 L637.3 239.1 L638.3 241.6 L639.4 244.1 L640.4 246.6 L641.5 249.1 L642.5 251.6 L643.6 254.1 L644.6 256.6 L645.7 259.1 L646.7 261.6 L647.8 264.1 L648.8 266.6 L649.8 269.1 L650.6 271.6 L651.4 274.1 L652.2 276.6 L653.0 279.1 L653.9 281.6 L654.7 284.1 L655.5 286.6 L656.3 289.1 L657.2 291.6 L658.0 294.1 L658.8 296.6 L659.7 299.1 L660.5 301.6 L661.3 304.1 L662.1 306.6 L663.0 309.1 L663.8 311.6 L664.6 314.1 L665.5 316.6 L666.3 319.1 L667.1 321.6 L668.0 324.1 L668.8 326.6 L669.6 329.1 L670.5 331.6 L671.3 334.1 L672.2 336.6 L673.0 339.1 L673.8 341.6 L674.7 344.1 L675.5 346.6 L676.4 349.1 L677.2 351.6 L678.1 354.1 L678.9 356.6 L679.8 359.1 L680.7 361.6 L681.6 364.1 L682.5 366.6 L683.4 369.1 L684.3 371.6 L685.2 374.1 L686.1 376.6 L687.1 379.1 L688.0 381.6 L689.0 384.1 L690.0 386.6 L690.9 389.1 L691.8 391.6 L692.7 394.1 L693.5 396.6 L694.4 399.1 L695.3 401.6 L696.3 404.1 L697.5 406.6 L698.6 409.1 L699.8 411.6 L700.9 414.1 L701.9 416.6 L702.9 419.1 L703.8 421.6 L704.8 424.1 L705.8 426.6 L706.8 429.1 L707.9 431.6 L709.3 434.1 L710.9 436.6 L712.6 439.1 L715.0 441.6 L718.2 444.1 L720.6 446.6 L722.8 449.1 L724.8 451.6 L726.5 454.1 L727.9 456.6 L729.2 459.1 L730.4 461.6 L731.5 464.1 L732.6 466.6 L733.5 469.1 L734.2 471.6 L734.9 474.1 L735.5 476.6 L736.0 479.1 L736.6 481.6 L737.1 484.1 L737.6 486.6 L738.1 489.1 L738.5 491.6 L738.8 494.1 L739.0 496.6 L739.1 499.1 L739.0 501.6 L738.9 504.1 L738.9 506.6 L739.0 509.1 L739.0 511.6 L739.1 514.1 L739.2 516.6 L739.3 519.1 L739.4 521.6 L739.5 524.1 L739.6 526.6 L739.7 528.5" stroke="#1800f4"/>
<path d="M173.5 91.9 L176.0 92.0 L178.5 92.0 L181.0 92.0 L183.5 92.1 L186.0 92.1 L188.5 92.1 L191.0 92.2 L193.5 92.2 L196.0 92.2 L198.5 92.3 L201.0 92.3 L203.5 92.4 L206.0 92.4 L208.5 92.5 L211.0 92.5 L213.5 92.6 L216.0 92.6 L218.5 92.7 L221.0 92.7 L223.5 92.8 L226.0 92.8 L228.5 92.9 L231.0 93.0 L233.5 93.0 L236.0 93.1 L238.5 93.2 L241.0 93.3 L243.5 93.4 L246.0 93.5 L248.5 93.5 L251.0 93.6 L253.5 93.7 L256.0 93.8 L258.5 93.9 L261.0 94.0 L263.5 94.0 L266.0 94.1 L268.5 94.2 L271.0 94.3 L273.5 94.4 L276.0 94.5 L278.5 94.5 L281.0 94.6 L283.5 94.7 L286.0 94.7 L288.5 94.7 L291.0 94.7 L293.5 94.7 L296.0 94.6 L298.5 94.5 L301.0 94.4 L303.5 94.3 L306.0 94.1 L308.5 93.9 L311.0 93.7 L313.5 93.4 L316.0 93.1 L318.5 92.8 L321.0 92.5 L323.5 92.2 L326.0 91.8 L328.5 91.5 L331.0 91.1 L333.5 90.6 L336.0 90.2 L338.5 89.7 L341.0 89.2 L343.5 88.6 L346.0 87.9 L348.5 87.2 L351.0 86.4 L353.5 85.6 L356.0 84.7 L358.5 83.8 L361.0 82.9 L363.5 82.0 L366.0 81.1 L368.5 80.2 L371.0 79.2 L373.5 78.2 L376.0 77.2 L378.5 76.2 L381.0 75.2 L383.5 74.2 L386.0 73.1 L388.5 72.1 L391.0 71.1 L393.5 70.1 L396.0 69.1 L398.5 68.1 L401.0 67.2 L403.5 66.2 L406.0 65.4 L408.5 64.5 L411.0 63.6 L413.5 62.7 L416.0 61.8 L418.5 61.0 L421.0 60.1 L423.5 59.3 L426.0 58.4 L428.5 57.6 L431.0 56.8 L433.5 56.0 L436.0 55.2 L438.5 54.4 L441.0 53.6 L443.5 52.9 L446.0 52.3 L448.5 51.7 L451.0 51.2 L453.5 50.8 L456.0 50.5 L458.5 50.3 L461.0 50.1 L463.5 50.1 L466.0 50.1 L468.5 50.4 L471.0 50.7 L473.5 51.1 L476.0 51.6 L478.5 52.4 L481.0 53.3 L483.5 54.3 L486.0 55.4 L488.5 56.7 L491.0 58.2 L493.5 59.7 L496.0 61.3 L498.5 63.1 L501.0 64.9 L503.5 66.7 L506.0 68.6 L508.5 70.4 L511.0 72.1 L513.5 73.9 L516.0 75.8 L518.5 77.6 L521.0 79.4 L523.5 81.2 L526.0 83.2 L528.5 85.3 L531.0 87.4 L533.5 89.6 L536.0 91.9 L538.5 94.2 L541.0 96.5 L543.5 99.0 L546.0 101.6 L548.5 104.0 L551.0 106.3 L553.5 108.5 L556.0 110.8 L558.5 113.0 L561.0 115.2 L563.5 117.5 L566.0 120.2 L568.5 123.2 L571.0 126.2 L573.5 129.4 L576.0 132.6 L578.5 135.9 L581.0 139.2 L583.5 142.4 L586.0 145.7 L588.5 149.0 L591.0 152.3 L593.5 155.8 L596.0 159.5 L597.3 162.0 L598.9 164.5 L600.5 167.0 L602.0 169.5 L603.6 172.0 L605.1 174.5 L606.7 177.0 L608.2 179.5 L609.7 182.0 L611.2 184.5 L612.7 187.0 L614.1 189.5 L615.5 192.0 L616.9 194.5 L618.2 197.0 L619.5 199.5 L620.7 202.0 L621.9 204.5 L623.1 207.0 L624.3 209.5 L625.4 212.0 L626.5 214.5 L627.6 217.0 L628.7 219.5 L629.8 222.0 L630.9 224.5 L631.9 227.0 L633.0 229.5 L634.1 232.0 L635.2 234.5 L636.2 237.0 L637.3 239.5 L638.4 242.0 L639.4 244.5 L640.4 247.0 L641.5 249.5 L642.5 252.0 L643.6 254.5 L644.6 257.0 L645.7 259.5 L646.7 262.0 L647.7 264.5 L648.8 267.0 L649.7 269.5 L650.5 272.0 L651.3 274.5 L652.1 277.0 L653.0 279.5 L653.8 282.0 L654.6 284.5 L655.4 287.0 L656.2 289.5 L657.1 292.0 L657.9 294.5 L658.7 297.0 L659.5 299.5 L660.3 302.0 L661.1 304.5 L662.0 307.0 L662.8 309.5 L663.6 312.0 L664.4 314.5 L665.2 317.0 L666.1 319.5 L666.9 322.0 L667.7 324.5 L668.5 327.0 L669.3 329.5 L670.2 332.0 L671.0 334.5 L671.8 337.0 L672.6 339.5 L673.5 342.0 L674.3 344.5 L675.1 347.0 L675.9 349.5 L676.7 352.0 L677.6 354.5 L678.4 357.0 L679.2 359.5 L680.0 362.0 L680.9 364.5 L681.7 367.0 L682.5 369.5 L683.3 372.0 L684.2 374.5 L685.0 377.0 L685.8 379.5 L686.6 382.0 L687.5 384.5 L688.3 387.0 L689.1 389.5 L690.0 392.0 L690.8 394.5 L691.6 397.0 L692.4 399.5 L693.3 402.0 L694.1 404.5 L695.0 407.0 L695.8 409.5 L696.7 412.0 L697.5 414.5 L698.4 417.0 L699.3 419.5 L700.2 422.0 L701.1 424.5 L702.0 427.0 L702.9 429.5 L703.9 432.0 L704.9 434.5 L705.9 437.0 L707.1 439.5 L708.2 442.0 L709.4 444.5 L710.5 447.0 L711.7 449.5 L713.0 452.0 L714.2 454.5 L715.6 457.0 L716.9 459.5 L718.4 462.0 L720.0 464.5 L721.7 467.0 L723.3 469.5 L724.8 472.0 L726.3 474.5 L727.7 477.0 L728.9 479.5 L729.9 482.0 L730.9 484.5 L731.9 487.0 L732.8 489.5 L733.7 492.0 L734.6 494.5 L735.2 497.0 L735.4 499.5 L735.4 502.0 L735.5 504.5 L735.7 507.0 L735.9 509.5 L736.2 512.0 L736.4 514.5 L736.7 517.0 L737.0 519.5 L737.2 522.0 L737.6 524.5 L737.9 527.0 L738.1 528.5" stroke="#0c00fb"/>
<path d="M173.5 93.4 L176.0 93.4 L178.5 93.5 L181.0 93.5 L183.5 93.5 L186.0 93.6 L188.5 93.6 L191.0 93.6 L193.5 93.7 L196.0 93.7 L198.5 93.8 L201.0 93.8 L203.5 93.8 L206.0 93.9 L208.5 93.9 L211.0 94.0 L213.5 94.0 L216.0 94.1 L218.5 94.1 L221.0 94.2 L223.5 94.2 L226.0 94.3 L228.5 94.3 L231.0 94.4 L233.5 94.5 L236.0 94.5 L238.5 94.6 L241.0 94.7 L243.5 94.8 L246.0 94.9 L248.5 95.0 L251.0 95.0 L253.5 95.1 L256.0 95.2 L258.5 95.3 L261.0 95.3 L263.5 95.4 L266.0 95.5 L268.5 95.6 L271.0 95.7 L273.5 95.7 L276.0 95.8 L278.5 95.9 L281.0 95.9 L283.5 96.0 L286.0 96.0 L288.5 96.1 L291.0 96.1 L293.5 96.0 L296.0 96.0 L298.5 95.9 L301.0 95.7 L303.5 95.6 L306.0 95.4 L308.5 95.2 L311.0 95.0 L313.5 94.7 L316.0 94.5 L318.5 94.2 L321.0 93.8 L323.5 93.5 L326.0 93.2 L328.5 92.8 L331.0 92.4 L333.5 92.0 L336.0 91.6 L338.5 91.1 L341.0 90.6 L343.5 90.0 L346.0 89.4 L348.5 88.6 L351.0 87.9 L353.5 87.1 L356.0 86.2 L358.5 85.3 L361.0 84.4 L363.5 83.5 L366.0 82.5 L368.5 81.6 L371.0 80.6 L373.5 79.6 L376.0 78.5 L378.5 77.5 L381.0 76.5 L383.5 75.4 L386.0 74.4 L388.5 73.3 L391.0 72.2 L393.5 71.2 L396.0 70.1 L398.5 69.1 L401.0 68.2 L403.5 67.2 L406.0 66.3 L408.5 65.4 L411.0 64.5 L413.5 63.6 L416.0 62.8 L418.5 61.9 L421.0 61.0 L423.5 60.2 L426.0 59.4 L428.5 58.5 L431.0 57.7 L433.5 56.9 L436.0 56.1 L438.5 55.2 L441.0 54.5 L443.5 53.8 L446.0 53.1 L448.5 52.6 L451.0 52.0 L453.5 51.6 L456.0 51.3 L458.5 51.1 L461.0 50.9 L463.5 50.8 L466.0 50.9 L468.5 51.2 L471.0 51.5 L473.5 51.9 L476.0 52.5 L478.5 53.2 L481.0 54.1 L483.5 55.1 L486.0 56.3 L488.5 57.6 L491.0 59.1 L493.5 60.6 L496.0 62.2 L498.5 64.0 L501.0 65.8 L503.5 67.7 L506.0 69.6 L508.5 71.4 L511.0 73.1 L513.5 74.9 L516.0 76.7 L518.5 78.5 L521.0 80.3 L523.5 82.2 L526.0 84.1 L528.5 86.2 L531.0 88.3 L533.5 90.5 L536.0 92.7 L538.5 95.0 L541.0 97.3 L543.5 99.7 L546.0 102.2 L548.5 104.6 L551.0 106.9 L553.5 109.1 L556.0 111.3 L558.5 113.5 L561.0 115.6 L563.5 118.0 L566.0 120.7 L568.5 123.6 L571.0 126.6 L573.5 129.8 L576.0 133.0 L578.5 136.3 L581.0 139.6 L583.5 142.9 L586.0 146.2 L588.5 149.4 L591.0 152.8 L593.5 156.2 L596.0 159.9 L597.4 162.4 L599.0 164.9 L600.5 167.4 L602.1 169.9 L603.6 172.4 L605.2 174.9 L606.7 177.4 L608.3 179.9 L609.8 182.4 L611.3 184.9 L612.7 187.4 L614.2 189.9 L615.6 192.4 L616.9 194.9 L618.3 197.4 L619.5 199.9 L620.8 202.4 L622.0 204.9 L623.2 207.4 L624.3 209.9 L625.4 212.4 L626.5 214.9 L627.6 217.4 L628.7 219.9 L629.8 222.4 L630.9 224.9 L632.0 227.4 L633.0 229.9 L634.1 232.4 L635.2 234.9 L636.2 237.4 L637.3 239.9 L638.4 242.4 L639.4 244.9 L640.5 247.4 L641.5 249.9 L642.5 252.4 L643.6 254.9 L644.6 257.4 L645.6 259.9 L646.7 262.4 L647.7 264.9 L648.8 267.4 L649.6 269.9 L650.4 272.4 L651.3 274.9 L652.1 277.4 L652.9 279.9 L653.7 282.4 L654.5 284.9 L655.3 287.4 L656.2 289.9 L657.0 292.4 L657.8 294.9 L658.6 297.4 L659.4 299.9 L660.3 302.4 L661.1 304.9 L661.9 307.4 L662.7 309.9 L663.5 312.4 L664.3 314.9 L665.2 317.4 L666.0 319.9 L666.8 322.4 L667.6 324.9 L668.4 327.4 L669.3 329.9 L670.1 332.4 L670.9 334.9 L671.7 337.4 L672.5 339.9 L673.4 342.4 L674.2 344.9 L675.0 347.4 L675.8 349.9 L676.6 352.4 L677.5 354.9 L678.3 357.4 L679.1 359.9 L679.9 362.4 L680.8 364.9 L681.6 367.4 L682.4 369.9 L683.2 372.4 L684.0 374.9 L684.9 377.4 L685.7 379.9 L686.5 382.4 L687.3 384.9 L688.2 387.4 L689.0 389.9 L689.8 392.4 L690.6 394.9 L691.5 397.4 L692.3 399.9 L693.1 402.4 L693.9 404.9 L694.8 407.4 L695.6 409.9 L696.4 412.4 L697.3 414.9 L698.1 417.4 L698.9 419.9 L699.7 422.4 L700.6 424.9 L701.4 427.4 L702.2 429.9 L703.1 432.4 L703.9 434.9 L704.7 437.4 L705.6 439.9 L706.4 442.4 L707.2 444.9 L708.1 447.4 L708.9 449.9 L709.8 452.4 L710.9 454.9 L712.1 457.4 L713.3 459.9 L714.5 462.4 L715.8 464.9 L716.9 467.4 L717.9 469.9 L718.8 472.4 L719.7 474.9 L720.6 477.4 L721.5 479.9 L722.5 482.4 L723.5 484.9 L724.7 487.4 L725.8 489.9 L726.9 492.4 L728.0 494.9 L729.0 497.4 L730.1 499.9 L731.1 502.4 L732.0 504.9 L732.7 507.4 L733.5 509.9 L734.1 512.4 L734.7 514.9 L735.2 517.4 L735.6 519.9 L735.9 522.4 L736.2 524.9 L736.4 527.4 L736.4 528.5" stroke="#0403ff"/>
<path d="M173.5 95.0 L176.0 95.0 L178.5 95.0 L181.0 95.1 L183.5 95.1 L186.0 95.1 L188.5 95.2 L191.0 95.2 L193.5 95.2 L196.0 95.3 L198.5 95.3 L201.0 95.3 L203.5 95.4 L206.0 95.4 L208.5 95.5 L211.0 95.5 L213.5 95.6 L216.0 95.6 L218.5 95.7 L221.0 95.7 L223.5 95.8 L226.0 95.8 L228.5 95.9 L231.0 95.9 L233.5 96.0 L236.0 96.0 L238.5 96.1 L241.0 96.2 L243.5 96.3 L246.0 96.3 L248.5 96.4 L251.0 96.5 L253.5 96.6 L256.0 96.7 L258.5 96.7 L261.0 96.8 L263.5 96.9 L266.0 96.9 L268.5 97.0 L271.0 97.1 L273.5 97.2 L276.0 97.2 L278.5 97.3 L281.0 97.3 L283.5 97.4 L286.0 97.4 L288.5 97.4 L291.0 97.4 L293.5 97.4 L296.0 97.3 L298.5 97.2 L301.0 97.1 L303.5 97.0 L306.0 96.8 L308.5 96.6 L311.0 96.4 L313.5 96.1 L316.0 95.8 L318.5 95.5 L321.0 95.2 L323.5 94.9 L326.0 94.6 L328.5 94.2 L331.0 93.8 L333.5 93.4 L336.0 93.0 L338.5 92.5 L341.0 92.0 L343.5 91.5 L346.0 90.8 L348.5 90.2 L351.0 89.4 L353.5 88.6 L356.0 87.8 L358.5 86.9 L361.0 86.0 L363.5 85.0 L366.0 84.1 L368.5 83.1 L371.0 82.1 L373.5 81.0 L376.0 79.9 L378.5 78.9 L381.0 77.8 L383.5 76.7 L386.0 75.6 L388.5 74.5 L391.0 73.4 L393.5 72.3 L396.0 71.2 L398.5 70.2 L401.0 69.2 L403.5 68.3 L406.0 67.3 L408.5 66.4 L411.0 65.5 L413.5 64.6 L416.0 63.7 L418.5 62.8 L421.0 62.0 L423.5 61.1 L426.0 60.3 L428.5 59.5 L431.0 58.6 L433.5 57.8 L436.0 57.0 L438.5 56.1 L441.0 55.3 L443.5 54.6 L446.0 54.0 L448.5 53.4 L451.0 52.8 L453.5 52.4 L456.0 52.1 L458.5 51.8 L461.0 51.7 L463.5 51.6 L466.0 51.7 L468.5 51.9 L471.0 52.3 L473.5 52.7 L476.0 53.3 L478.5 54.0 L481.0 55.0 L483.5 56.0 L486.0 57.2 L488.5 58.5 L491.0 60.0 L493.5 61.5 L496.0 63.2 L498.5 64.9 L501.0 66.8 L503.5 68.7 L506.0 70.6 L508.5 72.4 L511.0 74.1 L513.5 75.9 L516.0 77.7 L518.5 79.4 L521.0 81.2 L523.5 83.0 L526.0 85.0 L528.5 87.0 L531.0 89.1 L533.5 91.3 L536.0 93.5 L538.5 95.7 L541.0 98.0 L543.5 100.4 L546.0 102.8 L548.5 105.2 L551.0 107.4 L553.5 109.6 L556.0 111.8 L558.5 114.0 L561.0 116.1 L563.5 118.4 L566.0 121.1 L568.5 124.0 L571.0 127.0 L573.5 130.2 L576.0 133.4 L578.5 136.8 L581.0 140.1 L583.5 143.4 L586.0 146.6 L588.5 149.9 L591.0 153.2 L593.5 156.7 L596.0 160.3 L597.4 162.8 L599.0 165.3 L600.6 167.8 L602.2 170.3 L603.7 172.8 L605.3 175.3 L606.8 177.8 L608.4 180.3 L609.9 182.8 L611.4 185.3 L612.8 187.8 L614.2 190.3 L615.6 192.8 L617.0 195.3 L618.3 197.8 L619.6 200.3 L620.8 202.8 L622.0 205.3 L623.2 207.8 L624.3 210.3 L625.5 212.8 L626.6 215.3 L627.7 217.8 L628.8 220.3 L629.8 222.8 L630.9 225.3 L632.0 227.8 L633.1 230.3 L634.1 232.8 L635.2 235.3 L636.3 237.8 L637.3 240.3 L638.4 242.8 L639.4 245.3 L640.5 247.8 L641.5 250.3 L642.5 252.8 L643.6 255.3 L644.6 257.8 L645.6 260.3 L646.1 262.8 L647.1 265.3 L648.0 267.8 L648.9 270.3 L649.7 272.8 L650.5 275.3 L651.3 277.8 L652.1 280.3 L652.9 282.8 L653.8 285.3 L654.6 287.8 L655.4 290.3 L656.2 292.8 L657.0 295.3 L657.8 297.8 L658.7 300.3 L659.5 302.8 L660.3 305.3 L661.1 307.8 L661.9 310.3 L662.8 312.8 L663.6 315.3 L664.4 317.8 L665.2 320.3 L666.0 322.8 L666.8 325.3 L667.7 327.8 L668.5 330.3 L669.3 332.8 L670.1 335.3 L670.9 337.8 L671.8 340.3 L672.6 342.8 L673.4 345.3 L674.2 347.8 L675.0 350.3 L675.9 352.8 L676.7 355.3 L677.5 357.8 L678.3 360.3 L679.1 362.8 L680.0 365.3 L680.8 367.8 L681.6 370.3 L682.4 372.8 L683.3 375.3 L684.1 377.8 L684.9 380.3 L685.7 382.8 L686.5 385.3 L687.4 387.8 L688.2 390.3 L689.0 392.8 L689.8 395.3 L690.7 397.8 L691.5 400.3 L692.3 402.8 L693.1 405.3 L694.0 407.8 L694.8 410.3 L695.6 412.8 L696.4 415.3 L697.3 417.8 L698.1 420.3 L698.9 422.8 L699.7 425.3 L700.6 427.8 L701.4 430.3 L702.2 432.8 L703.1 435.3 L703.9 437.8 L704.7 440.3 L705.5 442.8 L706.4 445.3 L707.2 447.8 L708.0 450.3 L708.9 452.8 L709.8 455.3 L710.8 457.8 L711.8 460.3 L712.9 462.8 L713.9 465.3 L715.0 467.8 L716.0 470.3 L717.1 472.8 L718.1 475.3 L719.0 477.8 L719.9 480.3 L720.8 482.8 L721.7 485.3 L722.6 487.8 L723.4 490.3 L724.3 492.8 L725.1 495.3 L726.0 497.8 L726.8 500.3 L727.7 502.8 L728.5 505.3 L729.3 507.8 L730.0 510.3 L730.8 512.8 L731.5 515.3 L732.1 517.8 L732.8 520.3 L733.4 522.8 L734.0 525.3 L734.6 527.8 L734.8 528.5" stroke="#020aff"/>
<path d="M173.5 96.6 L176.0 96.6 L178.5 96.6 L181.0 96.7 L183.5 96.7 L186.0 96.7 L188.5 96.8 L191.0 96.8 L193.5 96.9 L196.0 96.9 L198.5 96.9 L201.0 97.0 L203.5 97.0 L206.0 97.0 L208.5 97.1 L211.0 97.1 L213.5 97.2 L216.0 97.2 L218.5 97.3 L221.0 97.3 L223.5 97.4 L226.0 97.4 L228.5 97.5 L231.0 97.5 L233.5 97.6 L236.0 97.6 L238.5 97.7 L241.0 97.8 L243.5 97.8 L246.0 97.9 L248.5 98.0 L251.0 98.0 L253.5 98.1 L256.0 98.2 L258.5 98.2 L261.0 98.3 L263.5 98.4 L266.0 98.4 L268.5 98.5 L271.0 98.6 L273.5 98.6 L276.0 98.7 L278.5 98.7 L281.0 98.8 L283.5 98.8 L286.0 98.9 L288.5 98.9 L291.0 98.9 L293.5 98.9 L296.0 98.8 L298.5 98.7 L301.0 98.6 L303.5 98.4 L306.0 98.2 L308.5 98.0 L311.0 97.8 L313.5 97.6 L316.0 97.3 L318.5 97.0 L321.0 96.7 L323.5 96.4 L326.0 96.0 L328.5 95.7 L331.0 95.3 L333.5 94.9 L336.0 94.5 L338.5 94.0 L341.0 93.6 L343.5 93.0 L346.0 92.4 L348.5 91.7 L351.0 91.0 L353.5 90.2 L356.0 89.4 L358.5 88.5 L361.0 87.6 L363.5 86.6 L366.0 85.6 L368.5 84.6 L371.0 83.6 L373.5 82.5 L376.0 81.4 L378.5 80.3 L381.0 79.2 L383.5 78.1 L386.0 76.9 L388.5 75.8 L391.0 74.6 L393.5 73.5 L396.0 72.4 L398.5 71.3 L401.0 70.3 L403.5 69.3 L406.0 68.4 L408.5 67.4 L411.0 66.5 L413.5 65.6 L416.0 64.7 L418.5 63.8 L421.0 62.9 L423.5 62.1 L426.0 61.2 L428.5 60.4 L431.0 59.6 L433.5 58.8 L436.0 57.9 L438.5 57.0 L441.0 56.2 L443.5 55.5 L446.0 54.8 L448.5 54.2 L451.0 53.6 L453.5 53.2 L456.0 52.8 L458.5 52.6 L461.0 52.4 L463.5 52.4 L466.0 52.4 L468.5 52.7 L471.0 53.1 L473.5 53.6 L476.0 54.1 L478.5 54.9 L481.0 55.8 L483.5 56.8 L486.0 58.0 L488.5 59.4 L491.0 60.8 L493.5 62.4 L496.0 64.1 L498.5 65.8 L501.0 67.7 L503.5 69.6 L506.0 71.5 L508.5 73.3 L511.0 75.1 L513.5 76.8 L516.0 78.6 L518.5 80.4 L521.0 82.1 L523.5 83.9 L526.0 85.9 L528.5 87.9 L531.0 90.0 L533.5 92.1 L536.0 94.3 L538.5 96.5 L541.0 98.7 L543.5 101.1 L546.0 103.4 L548.5 105.8 L551.0 108.0 L553.5 110.2 L556.0 112.3 L558.5 114.5 L561.0 116.6 L563.5 118.9 L566.0 121.5 L568.5 124.4 L571.0 127.4 L573.5 130.6 L576.0 133.8 L578.5 137.2 L581.0 140.5 L583.5 143.8 L586.0 147.1 L588.5 150.3 L591.0 153.6 L593.5 157.1 L596.0 160.7 L597.4 163.2 L599.0 165.7 L600.6 168.2 L602.2 170.7 L603.8 173.2 L605.4 175.7 L606.9 178.2 L608.4 180.7 L609.9 183.2 L611.4 185.7 L612.9 188.2 L614.3 190.7 L615.7 193.2 L617.0 195.7 L618.4 198.2 L619.6 200.7 L620.9 203.2 L622.0 205.7 L623.2 208.2 L624.4 210.7 L625.5 213.2 L626.6 215.7 L627.7 218.2 L628.8 220.7 L629.9 223.2 L630.9 225.7 L632.0 228.2 L633.1 230.7 L634.2 233.2 L635.2 235.7 L636.3 238.2 L637.4 240.7 L638.4 243.2 L639.6 245.7 L640.7 248.2 L641.7 250.7 L642.7 253.2 L643.7 255.7 L644.6 258.2 L645.5 260.7 L646.3 263.2 L647.1 265.7 L647.9 268.2 L648.7 270.7 L649.5 273.2 L650.3 275.7 L651.1 278.2 L651.9 280.7 L652.7 283.2 L653.6 285.7 L654.4 288.2 L655.2 290.7 L656.1 293.2 L656.9 295.7 L657.7 298.2 L658.6 300.7 L659.4 303.2 L660.2 305.7 L661.0 308.2 L661.8 310.7 L662.7 313.2 L663.5 315.7 L664.3 318.2 L665.2 320.7 L665.9 323.2 L666.7 325.7 L667.5 328.2 L668.4 330.7 L669.2 333.2 L670.1 335.7 L670.9 338.2 L671.8 340.7 L672.6 343.2 L673.5 345.7 L674.4 348.2 L675.3 350.7 L676.2 353.2 L677.2 355.7 L678.2 358.2 L679.1 360.7 L680.0 363.2 L680.9 365.7 L681.8 368.2 L682.7 370.7 L683.5 373.2 L684.4 375.7 L685.2 378.2 L686.0 380.7 L686.9 383.2 L687.7 385.7 L688.5 388.2 L689.3 390.7 L690.1 393.2 L690.9 395.7 L691.7 398.2 L692.4 400.7 L693.2 403.2 L694.0 405.7 L694.8 408.2 L695.5 410.7 L696.3 413.2 L697.1 415.7 L697.8 418.2 L698.6 420.7 L699.3 423.2 L700.1 425.7 L700.9 428.2 L701.6 430.7 L702.4 433.2 L703.1 435.7 L703.9 438.2 L704.7 440.7 L705.4 443.2 L706.2 445.7 L707.0 448.2 L707.8 450.7 L708.5 453.2 L709.3 455.7 L710.1 458.2 L710.9 460.7 L711.7 463.2 L712.5 465.7 L713.3 468.2 L714.1 470.7 L714.8 473.2 L715.6 475.7 L716.4 478.2 L717.2 480.7 L718.0 483.2 L718.8 485.7 L719.6 488.2 L720.4 490.7 L721.2 493.2 L722.0 495.7 L722.8 498.2 L723.6 500.7 L724.4 503.2 L725.2 505.7 L726.0 508.2 L726.8 510.7 L727.6 513.2 L728.4 515.7 L729.2 518.2 L730.0 520.7 L730.9 523.2 L731.7 525.7 L732.5 528.2 L732.6 528.5" stroke="#0111ff"/>
<path d="M173.5 98.3 L176.0 98.3 L178.5 98.3 L181.0 98.4 L183.5 98.4 L186.0 98.4 L188.5 98.5 L191.0 98.5 L193.5 98.5 L196.0 98.6 L198.5 98.6 L201.0 98.7 L203.5 98.7 L206.0 98.7 L208.5 98.8 L211.0 98.8 L213.5 98.8 L216.0 98.9 L218.5 98.9 L221.0 99.0 L223.5 99.0 L226.0 99.1 L228.5 99.1 L231.0 99.1 L233.5 99.2 L236.0 99.3 L238.5 99.3 L241.0 99.4 L243.5 99.4 L246.0 99.5 L248.5 99.6 L251.0 99.6 L253.5 99.7 L256.0 99.7 L258.5 99.8 L261.0 99.9 L263.5 99.9 L266.0 100.0 L268.5 100.0 L271.0 100.1 L273.5 100.2 L276.0 100.2 L278.5 100.3 L281.0 100.3 L283.5 100.3 L286.0 100.4 L288.5 100.4 L291.0 100.4 L293.5 100.4 L296.0 100.3 L298.5 100.2 L301.0 100.0 L303.5 99.9 L306.0 99.7 L308.5 99.5 L311.0 99.3 L313.5 99.1 L316.0 98.8 L318.5 98.5 L321.0 98.2 L323.5 97.9 L326.0 97.6 L328.5 97.2 L331.0 96.8 L333.5 96.5 L336.0 96.0 L338.5 95.6 L341.0 95.1 L343.5 94.6 L346.0 94.0 L348.5 93.4 L351.0 92.7 L353.5 91.9 L356.0 91.1 L358.5 90.2 L361.0 89.2 L363.5 88.2 L366.0 87.2 L368.5 86.2 L371.0 85.1 L373.5 84.0 L376.0 82.9 L378.5 81.7 L381.0 80.6 L383.5 79.4 L386.0 78.3 L388.5 77.1 L391.0 75.9 L393.5 74.7 L396.0 73.6 L398.5 72.5 L401.0 71.4 L403.5 70.4 L406.0 69.5 L408.5 68.5 L411.0 67.5 L413.5 66.6 L416.0 65.7 L418.5 64.8 L421.0 63.9 L423.5 63.0 L426.0 62.2 L428.5 61.4 L431.0 60.6 L433.5 59.7 L436.0 58.8 L438.5 57.9 L441.0 57.1 L443.5 56.3 L446.0 55.7 L448.5 55.0 L451.0 54.5 L453.5 54.0 L456.0 53.6 L458.5 53.4 L461.0 53.2 L463.5 53.1 L466.0 53.2 L468.5 53.5 L471.0 53.9 L473.5 54.4 L476.0 54.9 L478.5 55.7 L481.0 56.6 L483.5 57.7 L486.0 58.9 L488.5 60.2 L491.0 61.7 L493.5 63.3 L496.0 65.0 L498.5 66.7 L501.0 68.6 L503.5 70.5 L506.0 72.5 L508.5 74.3 L511.0 76.0 L513.5 77.8 L516.0 79.5 L518.5 81.2 L521.0 83.0 L523.5 84.8 L526.0 86.7 L528.5 88.7 L531.0 90.8 L533.5 92.9 L536.0 95.0 L538.5 97.2 L541.0 99.4 L543.5 101.7 L546.0 104.0 L548.5 106.3 L551.0 108.5 L553.5 110.7 L556.0 112.9 L558.5 115.0 L561.0 117.0 L563.5 119.3 L566.0 121.9 L568.5 124.8 L571.0 127.8 L573.5 130.9 L576.0 134.2 L578.5 137.6 L581.0 141.0 L583.5 144.2 L586.0 147.5 L588.5 150.8 L591.0 154.1 L593.5 157.5 L596.0 161.0 L597.5 163.5 L599.1 166.0 L600.7 168.5 L602.3 171.0 L603.9 173.5 L605.4 176.0 L607.0 178.5 L608.5 181.0 L610.0 183.5 L611.5 186.0 L613.0 188.5 L614.4 191.0 L615.8 193.5 L617.1 196.0 L618.4 198.5 L619.7 201.0 L620.9 203.5 L622.1 206.0 L623.3 208.5 L624.4 211.0 L625.5 213.5 L626.6 216.0 L627.7 218.5 L628.8 221.0 L629.9 223.5 L631.0 226.0 L632.0 228.5 L633.1 231.0 L634.2 233.5 L635.2 236.0 L636.3 238.5 L637.4 241.0 L638.5 243.5 L639.6 246.0 L640.7 248.5 L641.7 251.0 L642.7 253.5 L643.7 256.0 L644.5 258.5 L645.4 261.0 L646.2 263.5 L647.0 266.0 L647.8 268.5 L648.6 271.0 L649.4 273.5 L650.2 276.0 L651.0 278.5 L651.8 281.0 L652.6 283.5 L653.5 286.0 L654.3 288.5 L655.1 291.0 L656.0 293.5 L656.8 296.0 L657.6 298.5 L658.5 301.0 L659.3 303.5 L660.1 306.0 L660.9 308.5 L661.7 311.0 L662.6 313.5 L663.4 316.0 L664.2 318.5 L665.1 321.0 L665.8 323.5 L666.6 326.0 L667.5 328.5 L668.3 331.0 L669.2 333.5 L670.0 336.0 L670.9 338.5 L671.8 341.0 L672.7 343.5 L673.5 346.0 L674.4 348.5 L675.3 351.0 L676.3 353.5 L677.3 356.0 L678.2 358.5 L679.2 361.0 L680.1 363.5 L681.0 366.0 L681.9 368.5 L682.7 371.0 L683.6 373.5 L684.4 376.0 L685.3 378.5 L686.1 381.0 L686.9 383.5 L687.7 386.0 L688.5 388.5 L689.3 391.0 L690.1 393.5 L690.9 396.0 L691.7 398.5 L692.5 401.0 L693.3 403.5 L694.0 406.0 L694.8 408.5 L695.6 411.0 L696.3 413.5 L697.1 416.0 L697.9 418.5 L698.6 421.0 L699.4 423.5 L700.1 426.0 L700.9 428.5 L701.7 431.0 L702.4 433.5 L703.2 436.0 L703.9 438.5 L704.7 441.0 L705.5 443.5 L706.2 446.0 L707.0 448.5 L707.8 451.0 L708.6 453.5 L709.4 456.0 L710.2 458.5 L710.9 461.0 L711.7 463.5 L712.5 466.0 L713.3 468.5 L714.1 471.0 L714.9 473.5 L715.7 476.0 L716.5 478.5 L717.3 481.0 L718.1 483.5 L718.9 486.0 L719.7 488.5 L720.4 491.0 L721.2 493.5 L722.0 496.0 L722.8 498.5 L723.6 501.0 L724.4 503.5 L725.2 506.0 L726.1 508.5 L726.9 511.0 L727.7 513.5 L728.5 516.0 L729.3 518.5 L730.1 521.0 L730.9 523.5 L731.7 526.0 L732.5 528.5" stroke="#001fff"/>
<path d="M173.5 100.0 L176.0 100.1 L178.5 100.1 L181.0 100.1 L183.5 100.2 L186.0 100.2 L188.5 100.2 L191.0 100.3 L193.5 100.3 L196.0 100.3 L198.5 100.4 L201.0 100.4 L203.5 100.4 L206.0 100.5 L208.5 100.5 L211.0 100.5 L213.5 100.6 L216.0 100.6 L218.5 100.7 L221.0 100.7 L223.5 100.7 L226.0 100.8 L228.5 100.8 L231.0 100.9 L233.5 100.9 L236.0 100.9 L238.5 101.0 L241.0 101.0 L243.5 101.1 L246.0 101.2 L248.5 101.2 L251.0 101.3 L253.5 101.3 L256.0 101.4 L258.5 101.4 L261.0 101.5 L263.5 101.5 L266.0 101.6 L268.5 101.6 L271.0 101.7 L273.5 101.7 L276.0 101.8 L278.5 101.8 L281.0 101.9 L283.5 101.9 L286.0 101.9 L288.5 101.9 L291.0 101.9 L293.5 101.9 L296.0 101.8 L298.5 101.7 L301.0 101.6 L303.5 101.4 L306.0 101.3 L308.5 101.1 L311.0 100.8 L313.5 100.6 L316.0 100.3 L318.5 100.0 L321.0 99.7 L323.5 99.4 L326.0 99.1 L328.5 98.8 L331.0 98.4 L333.5 98.0 L336.0 97.6 L338.5 97.2 L341.0 96.7 L343.5 96.2 L346.0 95.7 L348.5 95.0 L351.0 94.3 L353.5 93.6 L356.0 92.8 L358.5 91.9 L361.0 90.9 L363.5 89.9 L366.0 88.9 L368.5 87.9 L371.0 86.7 L373.5 85.6 L376.0 84.4 L378.5 83.2 L381.0 82.1 L383.5 80.9 L386.0 79.6 L388.5 78.4 L391.0 77.2 L393.5 76.0 L396.0 74.8 L398.5 73.7 L401.0 72.6 L403.5 71.6 L406.0 70.6 L408.5 69.6 L411.0 68.6 L413.5 67.6 L416.0 66.7 L418.5 65.8 L421.0 64.9 L423.5 64.0 L426.0 63.2 L428.5 62.4 L431.0 61.5 L433.5 60.7 L436.0 59.8 L438.5 58.9 L441.0 58.0 L443.5 57.2 L446.0 56.5 L448.5 55.9 L451.0 55.3 L453.5 54.8 L456.0 54.4 L458.5 54.2 L461.0 54.0 L463.5 53.9 L466.0 54.0 L468.5 54.3 L471.0 54.7 L473.5 55.2 L476.0 55.7 L478.5 56.5 L481.0 57.5 L483.5 58.5 L486.0 59.7 L488.5 61.1 L491.0 62.6 L493.5 64.2 L496.0 65.8 L498.5 67.6 L501.0 69.5 L503.5 71.5 L506.0 73.4 L508.5 75.2 L511.0 77.0 L513.5 78.7 L516.0 80.4 L518.5 82.1 L521.0 83.9 L523.5 85.6 L526.0 87.6 L528.5 89.5 L531.0 91.6 L533.5 93.6 L536.0 95.8 L538.5 97.9 L541.0 100.1 L543.5 102.3 L546.0 104.6 L548.5 106.9 L551.0 109.1 L553.5 111.2 L556.0 113.3 L558.5 115.4 L561.0 117.5 L563.5 119.7 L566.0 122.3 L568.5 125.2 L571.0 128.2 L573.5 131.3 L576.0 134.6 L578.5 138.0 L581.0 141.4 L583.5 144.7 L586.0 147.9 L588.5 151.2 L591.0 154.5 L593.5 157.9 L596.0 161.4 L597.5 163.9 L599.2 166.4 L600.8 168.9 L602.4 171.4 L604.0 173.9 L605.5 176.4 L607.1 178.9 L608.6 181.4 L610.1 183.9 L611.6 186.4 L613.0 188.9 L614.4 191.4 L615.8 193.9 L617.1 196.4 L618.4 198.9 L619.7 201.4 L620.9 203.9 L622.1 206.4 L623.3 208.9 L624.4 211.4 L625.6 213.9 L626.7 216.4 L627.8 218.9 L628.8 221.4 L629.9 223.9 L631.0 226.4 L632.1 228.9 L633.1 231.4 L634.2 233.9 L635.3 236.4 L636.3 238.9 L637.4 241.4 L638.5 243.9 L639.6 246.4 L640.7 248.9 L641.7 251.4 L642.7 253.9 L643.6 256.4 L644.5 258.9 L645.3 261.4 L646.1 263.9 L646.9 266.4 L647.7 268.9 L648.4 271.4 L649.3 273.9 L650.1 276.4 L650.9 278.9 L651.7 281.4 L652.5 283.9 L653.4 286.4 L654.2 288.9 L655.0 291.4 L655.9 293.9 L656.7 296.4 L657.5 298.9 L658.4 301.4 L659.2 303.9 L660.0 306.4 L660.8 308.9 L661.6 311.4 L662.5 313.9 L663.3 316.4 L664.1 318.9 L665.0 321.4 L665.8 323.9 L666.6 326.4 L667.4 328.9 L668.3 331.4 L669.1 333.9 L670.0 336.4 L670.9 338.9 L671.8 341.4 L672.7 343.9 L673.6 346.4 L674.5 348.9 L675.4 351.4 L676.4 353.9 L677.3 356.4 L678.3 358.9 L679.2 361.4 L680.2 363.9 L681.1 366.4 L681.9 368.9 L682.8 371.4 L683.6 373.9 L684.5 376.4 L685.3 378.9 L686.1 381.4 L686.9 383.9 L687.8 386.4 L688.6 388.9 L689.4 391.4 L690.2 393.9 L691.0 396.4 L691.7 398.9 L692.5 401.4 L693.3 403.9 L694.1 406.4 L694.8 408.9 L695.6 411.4 L696.4 413.9 L697.1 416.4 L697.9 418.9 L698.7 421.4 L699.4 423.9 L700.2 426.4 L700.9 428.9 L701.7 431.4 L702.4 433.9 L703.2 436.4 L704.0 438.9 L704.7 441.4 L705.5 443.9 L706.3 446.4 L707.1 448.9 L707.8 451.4 L708.6 453.9 L709.4 456.4 L710.2 458.9 L711.0 461.4 L711.8 463.9 L712.6 466.4 L713.3 468.9 L714.1 471.4 L714.9 473.9 L715.7 476.4 L716.5 478.9 L717.3 481.4 L718.1 483.9 L718.9 486.4 L719.7 488.9 L720.5 491.4 L721.3 493.9 L722.1 496.4 L722.9 498.9 L723.7 501.4 L724.5 503.9 L725.3 506.4 L726.1 508.9 L726.9 511.4 L727.7 513.9 L728.5 516.4 L729.3 518.9 L730.1 521.4 L730.9 523.9 L731.8 526.4 L732.4 528.5" stroke="#0031ff"/>
<path d="M173.5 101.9 L176.0 101.9 L178.5 101.9 L181.0 101.9 L183.5 102.0 L186.0 102.0 L188.5 102.0 L191.0 102.1 L193.5 102.1 L196.0 102.1 L198.5 102.2 L201.0 102.2 L203.5 102.2 L206.0 102.3 L208.5 102.3 L211.0 102.3 L213.5 102.4 L216.0 102.4 L218.5 102.4 L221.0 102.5 L223.5 102.5 L226.0 102.6 L228.5 102.6 L231.0 102.6 L233.5 102.7 L236.0 102.7 L238.5 102.7 L241.0 102.8 L243.5 102.8 L246.0 102.9 L248.5 102.9 L251.0 103.0 L253.5 103.0 L256.0 103.1 L258.5 103.1 L261.0 103.1 L263.5 103.2 L266.0 103.2 L268.5 103.3 L271.0 103.3 L273.5 103.4 L276.0 103.4 L278.5 103.4 L281.0 103.5 L283.5 103.5 L286.0 103.5 L288.5 103.5 L291.0 103.5 L293.5 103.5 L296.0 103.4 L298.5 103.3 L301.0 103.2 L303.5 103.0 L306.0 102.8 L308.5 102.6 L311.0 102.4 L313.5 102.2 L316.0 101.9 L318.5 101.6 L321.0 101.3 L323.5 101.0 L326.0 100.7 L328.5 100.4 L331.0 100.0 L333.5 99.7 L336.0 99.3 L338.5 98.8 L341.0 98.4 L343.5 97.9 L346.0 97.4 L348.5 96.8 L351.0 96.1 L353.5 95.4 L356.0 94.6 L358.5 93.7 L361.0 92.7 L363.5 91.7 L366.0 90.6 L368.5 89.5 L371.0 88.4 L373.5 87.2 L376.0 86.0 L378.5 84.8 L381.0 83.6 L383.5 82.3 L386.0 81.1 L388.5 79.8 L391.0 78.5 L393.5 77.3 L396.0 76.1 L398.5 74.9 L401.0 73.8 L403.5 72.7 L406.0 71.7 L408.5 70.7 L411.0 69.7 L413.5 68.7 L416.0 67.7 L418.5 66.8 L421.0 65.9 L423.5 65.0 L426.0 64.2 L428.5 63.4 L431.0 62.5 L433.5 61.7 L436.0 60.7 L438.5 59.8 L441.0 58.9 L443.5 58.1 L446.0 57.4 L448.5 56.7 L451.0 56.1 L453.5 55.6 L456.0 55.2 L458.5 55.0 L461.0 54.8 L463.5 54.7 L466.0 54.8 L468.5 55.0 L471.0 55.5 L473.5 56.0 L476.0 56.5 L478.5 57.3 L481.0 58.3 L483.5 59.3 L486.0 60.6 L488.5 62.0 L491.0 63.5 L493.5 65.0 L496.0 66.7 L498.5 68.5 L501.0 70.4 L503.5 72.4 L506.0 74.4 L508.5 76.2 L511.0 77.9 L513.5 79.6 L516.0 81.3 L518.5 83.0 L521.0 84.7 L523.5 86.5 L526.0 88.4 L528.5 90.3 L531.0 92.3 L533.5 94.4 L536.0 96.5 L538.5 98.6 L541.0 100.7 L543.5 103.0 L546.0 105.2 L548.5 107.4 L551.0 109.6 L553.5 111.7 L556.0 113.8 L558.5 115.9 L561.0 117.9 L563.5 120.1 L566.0 122.7 L568.5 125.5 L571.0 128.6 L573.5 131.7 L576.0 135.0 L578.5 138.4 L581.0 141.8 L583.5 145.1 L586.0 148.4 L588.5 151.6 L591.0 154.9 L593.5 158.3 L596.0 161.8 L597.6 164.3 L599.2 166.8 L600.8 169.3 L602.4 171.8 L604.0 174.3 L605.6 176.8 L607.1 179.3 L608.7 181.8 L610.2 184.3 L611.6 186.8 L613.1 189.3 L614.5 191.8 L615.9 194.3 L617.2 196.8 L618.5 199.3 L619.7 201.8 L621.0 204.3 L622.2 206.8 L623.3 209.3 L624.5 211.8 L625.6 214.3 L626.7 216.8 L627.8 219.3 L628.9 221.8 L629.9 224.3 L631.0 226.8 L632.1 229.3 L633.2 231.8 L634.2 234.3 L635.3 236.8 L636.4 239.3 L637.4 241.8 L638.5 244.3 L639.6 246.8 L640.7 249.3 L641.7 251.8 L642.7 254.3 L643.6 256.8 L644.4 259.3 L645.2 261.8 L646.0 264.3 L646.8 266.8 L647.6 269.3 L648.3 271.8 L649.1 274.3 L650.0 276.8 L650.8 279.3 L651.6 281.8 L652.4 284.3 L653.3 286.8 L654.1 289.3 L654.9 291.8 L655.8 294.3 L656.6 296.8 L657.4 299.3 L658.3 301.8 L659.1 304.3 L659.9 306.8 L660.7 309.3 L661.5 311.8 L662.4 314.3 L663.2 316.8 L664.1 319.3 L664.9 321.8 L665.7 324.3 L666.5 326.8 L667.4 329.3 L668.2 331.8 L669.1 334.3 L670.0 336.8 L670.9 339.3 L671.8 341.8 L672.7 344.3 L673.6 346.8 L674.5 349.3 L675.5 351.8 L676.4 354.3 L677.4 356.8 L678.4 359.3 L679.3 361.8 L680.2 364.3 L681.1 366.8 L682.0 369.3 L682.8 371.8 L683.7 374.3 L684.5 376.8 L685.4 379.3 L686.2 381.8 L687.0 384.3 L687.8 386.8 L688.6 389.3 L689.4 391.8 L690.2 394.3 L691.0 396.8 L691.8 399.3 L692.6 401.8 L693.3 404.3 L694.1 406.8 L694.9 409.3 L695.6 411.8 L696.4 414.3 L697.2 416.8 L697.9 419.3 L698.7 421.8 L699.4 424.3 L700.2 426.8 L701.0 429.3 L701.7 431.8 L702.5 434.3 L703.2 436.8 L704.0 439.3 L704.8 441.8 L705.5 444.3 L706.3 446.8 L707.1 449.3 L707.9 451.8 L708.7 454.3 L709.4 456.8 L710.2 459.3 L711.0 461.8 L711.8 464.3 L712.6 466.8 L713.4 469.3 L714.2 471.8 L715.0 474.3 L715.8 476.8 L716.6 479.3 L717.3 481.8 L718.1 484.3 L718.9 486.8 L719.7 489.3 L720.5 491.8 L721.3 494.3 L722.1 496.8 L722.9 499.3 L723.7 501.8 L724.5 504.3 L725.3 506.8 L726.1 509.3 L726.9 511.8 L727.7 514.3 L728.6 516.8 L729.4 519.3 L730.2 521.8 L731.0 524.3 L731.8 526.8 L732.4 528.5" stroke="#0044ff"/>
<path d="M173.5 103.7 L176.0 103.8 L178.5 103.8 L181.0 103.8 L183.5 103.9 L186.0 103.9 L188.5 103.9 L191.0 103.9 L193.5 104.0 L196.0 104.0 L198.5 104.0 L201.0 104.1 L203.5 104.1 L206.0 104.1 L208.5 104.2 L211.0 104.2 L213.5 104.2 L216.0 104.3 L218.5 104.3 L221.0 104.3 L223.5 104.3 L226.0 104.4 L228.5 104.4 L231.0 104.4 L233.5 104.5 L236.0 104.5 L238.5 104.5 L241.0 104.6 L243.5 104.6 L246.0 104.6 L248.5 104.7 L251.0 104.7 L253.5 104.8 L256.0 104.8 L258.5 104.8 L261.0 104.9 L263.5 104.9 L266.0 104.9 L268.5 105.0 L271.0 105.0 L273.5 105.0 L276.0 105.1 L278.5 105.1 L281.0 105.1 L283.5 105.2 L286.0 105.2 L288.5 105.2 L291.0 105.2 L293.5 105.1 L296.0 105.1 L298.5 104.9 L301.0 104.8 L303.5 104.6 L306.0 104.4 L308.5 104.2 L311.0 104.0 L313.5 103.8 L316.0 103.5 L318.5 103.3 L321.0 103.0 L323.5 102.7 L326.0 102.4 L328.5 102.1 L331.0 101.7 L333.5 101.3 L336.0 100.9 L338.5 100.5 L341.0 100.1 L343.5 99.6 L346.0 99.1 L348.5 98.5 L351.0 97.9 L353.5 97.2 L356.0 96.4 L358.5 95.5 L361.0 94.5 L363.5 93.4 L366.0 92.4 L368.5 91.3 L371.0 90.1 L373.5 88.9 L376.0 87.6 L378.5 86.4 L381.0 85.1 L383.5 83.8 L386.0 82.5 L388.5 81.2 L391.0 79.9 L393.5 78.6 L396.0 77.3 L398.5 76.2 L401.0 75.0 L403.5 73.9 L406.0 72.9 L408.5 71.8 L411.0 70.8 L413.5 69.8 L416.0 68.8 L418.5 67.8 L421.0 66.9 L423.5 66.0 L426.0 65.2 L428.5 64.4 L431.0 63.5 L433.5 62.6 L436.0 61.7 L438.5 60.7 L441.0 59.8 L443.5 59.0 L446.0 58.3 L448.5 57.6 L451.0 57.0 L453.5 56.4 L456.0 56.0 L458.5 55.8 L461.0 55.6 L463.5 55.5 L466.0 55.5 L468.5 55.8 L471.0 56.3 L473.5 56.8 L476.0 57.3 L478.5 58.1 L481.0 59.1 L483.5 60.2 L486.0 61.4 L488.5 62.8 L491.0 64.3 L493.5 65.9 L496.0 67.6 L498.5 69.4 L501.0 71.3 L503.5 73.3 L506.0 75.3 L508.5 77.1 L511.0 78.8 L513.5 80.5 L516.0 82.2 L518.5 83.9 L521.0 85.6 L523.5 87.3 L526.0 89.2 L528.5 91.1 L531.0 93.1 L533.5 95.1 L536.0 97.2 L538.5 99.3 L541.0 101.4 L543.5 103.6 L546.0 105.8 L548.5 108.0 L551.0 110.1 L553.5 112.2 L556.0 114.3 L558.5 116.4 L561.0 118.4 L563.5 120.5 L566.0 123.1 L568.5 125.9 L571.0 128.9 L573.5 132.1 L576.0 135.3 L578.5 138.8 L581.0 142.2 L583.5 145.5 L586.0 148.8 L588.5 152.0 L591.0 155.3 L593.5 158.7 L596.0 162.1 L597.6 164.6 L599.3 167.1 L600.9 169.6 L602.5 172.1 L604.1 174.6 L605.7 177.1 L607.2 179.6 L608.7 182.1 L610.2 184.6 L611.7 187.1 L613.1 189.6 L614.5 192.1 L615.9 194.6 L617.2 197.1 L618.5 199.6 L619.8 202.1 L621.0 204.6 L622.2 207.1 L623.4 209.6 L624.5 212.1 L625.6 214.6 L626.7 217.1 L627.8 219.6 L628.9 222.1 L630.0 224.6 L631.0 227.1 L632.1 229.6 L633.2 232.1 L634.2 234.6 L635.3 237.1 L636.4 239.6 L637.5 242.1 L638.5 244.6 L639.6 247.1 L640.7 249.6 L641.7 252.1 L642.6 254.6 L643.5 257.1 L644.3 259.6 L645.1 262.1 L645.9 264.6 L646.7 267.1 L647.4 269.6 L648.2 272.1 L649.0 274.6 L649.9 277.1 L650.7 279.6 L651.5 282.1 L652.3 284.6 L653.2 287.1 L654.0 289.6 L654.8 292.1 L655.7 294.6 L656.5 297.1 L657.3 299.6 L658.2 302.1 L659.0 304.6 L659.8 307.1 L660.6 309.6 L661.4 312.1 L662.3 314.6 L663.1 317.1 L664.0 319.6 L664.8 322.1 L665.6 324.6 L666.4 327.1 L667.3 329.6 L668.2 332.1 L669.1 334.6 L670.0 337.1 L670.9 339.6 L671.8 342.1 L672.7 344.6 L673.6 347.1 L674.6 349.6 L675.5 352.1 L676.5 354.6 L677.5 357.1 L678.4 359.6 L679.4 362.1 L680.3 364.6 L681.2 367.1 L682.0 369.6 L682.9 372.1 L683.7 374.6 L684.6 377.1 L685.4 379.6 L686.2 382.1 L687.0 384.6 L687.8 387.1 L688.6 389.6 L689.4 392.1 L690.2 394.6 L691.0 397.1 L691.8 399.6 L692.6 402.1 L693.4 404.6 L694.1 407.1 L694.9 409.6 L695.7 412.1 L696.4 414.6 L697.2 417.1 L698.0 419.6 L698.7 422.1 L699.5 424.6 L700.2 427.1 L701.0 429.6 L701.8 432.1 L702.5 434.6 L703.3 437.1 L704.0 439.6 L704.8 442.1 L705.6 444.6 L706.4 447.1 L707.1 449.6 L707.9 452.1 L708.7 454.6 L709.5 457.1 L710.3 459.6 L711.1 462.1 L711.8 464.6 L712.6 467.1 L713.4 469.6 L714.2 472.1 L715.0 474.6 L715.8 477.1 L716.6 479.6 L717.4 482.1 L718.2 484.6 L719.0 487.1 L719.8 489.6 L720.6 492.1 L721.4 494.6 L722.2 497.1 L723.0 499.6 L723.8 502.1 L724.6 504.6 L725.4 507.1 L726.2 509.6 L727.0 512.1 L727.8 514.6 L728.6 517.1 L729.4 519.6 L730.2 522.1 L731.0 524.6 L731.8 527.1 L732.3 528.5" stroke="#0056ff"/>
<path d="M173.5 105.7 L176.0 105.7 L178.5 105.7 L181.0 105.8 L183.5 105.8 L186.0 105.8 L188.5 105.8 L191.0 105.9 L193.5 105.9 L196.0 105.9 L198.5 106.0 L201.0 106.0 L203.5 106.0 L206.0 106.0 L208.5 106.1 L211.0 106.1 L213.5 106.1 L216.0 106.2 L218.5 106.2 L221.0 106.2 L223.5 106.2 L226.0 106.3 L228.5 106.3 L231.0 106.3 L233.5 106.3 L236.0 106.3 L238.5 106.4 L241.0 106.4 L243.5 106.4 L246.0 106.5 L248.5 106.5 L251.0 106.5 L253.5 106.6 L256.0 106.6 L258.5 106.6 L261.0 106.6 L263.5 106.7 L266.0 106.7 L268.5 106.7 L271.0 106.7 L273.5 106.8 L276.0 106.8 L278.5 106.8 L281.0 106.8 L283.5 106.9 L286.0 106.9 L288.5 106.9 L291.0 106.9 L293.5 106.8 L296.0 106.7 L298.5 106.6 L301.0 106.5 L303.5 106.3 L306.0 106.1 L308.5 105.9 L311.0 105.7 L313.5 105.5 L316.0 105.2 L318.5 105.0 L321.0 104.7 L323.5 104.4 L326.0 104.1 L328.5 103.8 L331.0 103.4 L333.5 103.0 L336.0 102.7 L338.5 102.3 L341.0 101.9 L343.5 101.4 L346.0 100.9 L348.5 100.3 L351.0 99.7 L353.5 99.0 L356.0 98.3 L358.5 97.3 L361.0 96.3 L363.5 95.3 L366.0 94.2 L368.5 93.1 L371.0 91.9 L373.5 90.6 L376.0 89.3 L378.5 88.0 L381.0 86.7 L383.5 85.4 L386.0 84.0 L388.5 82.7 L391.0 81.3 L393.5 80.0 L396.0 78.7 L398.5 77.4 L401.0 76.3 L403.5 75.1 L406.0 74.0 L408.5 73.0 L411.0 71.9 L413.5 70.9 L416.0 69.9 L418.5 68.9 L421.0 68.0 L423.5 67.1 L426.0 66.2 L428.5 65.4 L431.0 64.5 L433.5 63.6 L436.0 62.7 L438.5 61.7 L441.0 60.8 L443.5 59.9 L446.0 59.2 L448.5 58.5 L451.0 57.8 L453.5 57.2 L456.0 56.9 L458.5 56.6 L461.0 56.4 L463.5 56.3 L466.0 56.3 L468.5 56.6 L471.0 57.0 L473.5 57.6 L476.0 58.1 L478.5 59.0 L481.0 59.9 L483.5 61.0 L486.0 62.2 L488.5 63.7 L491.0 65.2 L493.5 66.8 L496.0 68.5 L498.5 70.3 L501.0 72.2 L503.5 74.2 L506.0 76.2 L508.5 78.1 L511.0 79.8 L513.5 81.4 L516.0 83.1 L518.5 84.7 L521.0 86.4 L523.5 88.1 L526.0 90.0 L528.5 91.9 L531.0 93.9 L533.5 95.9 L536.0 97.9 L538.5 100.0 L541.0 102.0 L543.5 104.2 L546.0 106.3 L548.5 108.5 L551.0 110.6 L553.5 112.7 L556.0 114.8 L558.5 116.8 L561.0 118.8 L563.5 120.9 L566.0 123.5 L568.5 126.3 L571.0 129.3 L573.5 132.4 L576.0 135.7 L578.5 139.2 L581.0 142.6 L583.5 145.9 L586.0 149.2 L588.5 152.4 L591.0 155.7 L593.5 159.0 L596.0 162.5 L597.7 165.0 L599.3 167.5 L601.0 170.0 L602.6 172.5 L604.2 175.0 L605.8 177.5 L607.3 180.0 L608.8 182.5 L610.3 185.0 L611.8 187.5 L613.2 190.0 L614.6 192.5 L616.0 195.0 L617.3 197.5 L618.6 200.0 L619.8 202.5 L621.0 205.0 L622.2 207.5 L623.4 210.0 L624.5 212.5 L625.6 215.0 L626.8 217.5 L627.8 220.0 L628.9 222.5 L630.0 225.0 L631.1 227.5 L632.1 230.0 L633.2 232.5 L634.3 235.0 L635.3 237.5 L636.4 240.0 L637.5 242.5 L638.6 245.0 L639.6 247.5 L640.7 250.0 L641.6 252.5 L642.6 255.0 L643.4 257.5 L644.3 260.0 L645.0 262.5 L645.8 265.0 L646.6 267.5 L647.3 270.0 L648.1 272.5 L648.9 275.0 L649.7 277.5 L650.6 280.0 L651.4 282.5 L652.2 285.0 L653.1 287.5 L653.9 290.0 L654.7 292.5 L655.6 295.0 L656.4 297.5 L657.2 300.0 L658.1 302.5 L658.9 305.0 L659.7 307.5 L660.5 310.0 L661.3 312.5 L662.2 315.0 L663.0 317.5 L663.9 320.0 L664.7 322.5 L665.5 325.0 L666.4 327.5 L667.3 330.0 L668.2 332.5 L669.1 335.0 L670.0 337.5 L670.9 340.0 L671.8 342.5 L672.8 345.0 L673.7 347.5 L674.6 350.0 L675.6 352.5 L676.6 355.0 L677.5 357.5 L678.5 360.0 L679.4 362.5 L680.3 365.0 L681.2 367.5 L682.1 370.0 L682.9 372.5 L683.8 375.0 L684.6 377.5 L685.4 380.0 L686.2 382.5 L687.1 385.0 L687.9 387.5 L688.7 390.0 L689.5 392.5 L690.3 395.0 L691.1 397.5 L691.9 400.0 L692.6 402.5 L693.4 405.0 L694.2 407.5 L694.9 410.0 L695.7 412.5 L696.5 415.0 L697.2 417.5 L698.0 420.0 L698.8 422.5 L699.5 425.0 L700.3 427.5 L701.0 430.0 L701.8 432.5 L702.5 435.0 L703.3 437.5 L704.1 440.0 L704.8 442.5 L705.6 445.0 L706.4 447.5 L707.2 450.0 L708.0 452.5 L708.7 455.0 L709.5 457.5 L710.3 460.0 L711.1 462.5 L711.9 465.0 L712.7 467.5 L713.5 470.0 L714.2 472.5 L715.0 475.0 L715.8 477.5 L716.6 480.0 L717.4 482.5 L718.2 485.0 L719.0 487.5 L719.8 490.0 L720.6 492.5 L721.4 495.0 L722.2 497.5 L723.0 500.0 L723.8 502.5 L724.6 505.0 L725.4 507.5 L726.2 510.0 L727.0 512.5 L727.8 515.0 L728.6 517.5 L729.4 520.0 L730.2 522.5 L731.1 525.0 L731.9 527.5 L732.2 528.5" stroke="#0069ff"/>
<path d="M173.5 107.7 L176.0 107.7 L178.5 107.7 L181.0 107.7 L183.5 107.8 L186.0 107.8 L188.5 107.8 L191.0 107.9 L193.5 107.9 L196.0 107.9 L198.5 107.9 L201.0 108.0 L203.5 108.0 L206.0 108.0 L208.5 108.0 L211.0 108.1 L213.5 108.1 L216.0 108.1 L218.5 108.1 L221.0 108.2 L223.5 108.2 L226.0 108.2 L228.5 108.2 L231.0 108.2 L233.5 108.2 L236.0 108.3 L238.5 108.3 L241.0 108.3 L243.5 108.3 L246.0 108.3 L248.5 108.3 L251.0 108.4 L253.5 108.4 L256.0 108.4 L258.5 108.4 L261.0 108.4 L263.5 108.5 L266.0 108.5 L268.5 108.5 L271.0 108.5 L273.5 108.5 L276.0 108.6 L278.5 108.6 L281.0 108.6 L283.5 108.6 L286.0 108.6 L288.5 108.6 L291.0 108.6 L293.5 108.6 L296.0 108.5 L298.5 108.3 L301.0 108.2 L303.5 108.0 L306.0 107.8 L308.5 107.6 L311.0 107.4 L313.5 107.2 L316.0 106.9 L318.5 106.7 L321.0 106.4 L323.5 106.1 L326.0 105.8 L328.5 105.5 L331.0 105.2 L333.5 104.8 L336.0 104.4 L338.5 104.0 L341.0 103.6 L343.5 103.2 L346.0 102.7 L348.5 102.2 L351.0 101.6 L353.5 100.9 L356.0 100.2 L358.5 99.2 L361.0 98.2 L363.5 97.1 L366.0 96.0 L368.5 94.9 L371.0 93.6 L373.5 92.4 L376.0 91.0 L378.5 89.7 L381.0 88.3 L383.5 87.0 L386.0 85.6 L388.5 84.1 L391.0 82.7 L393.5 81.3 L396.0 80.0 L398.5 78.7 L401.0 77.5 L403.5 76.4 L406.0 75.2 L408.5 74.1 L411.0 73.0 L413.5 72.0 L416.0 71.0 L418.5 70.0 L421.0 69.0 L423.5 68.1 L426.0 67.3 L428.5 66.4 L431.0 65.6 L433.5 64.7 L436.0 63.7 L438.5 62.7 L441.0 61.7 L443.5 60.8 L446.0 60.1 L448.5 59.3 L451.0 58.6 L453.5 58.1 L456.0 57.7 L458.5 57.4 L461.0 57.2 L463.5 57.0 L466.0 57.1 L468.5 57.4 L471.0 57.8 L473.5 58.4 L476.0 58.9 L478.5 59.8 L481.0 60.7 L483.5 61.8 L486.0 63.1 L488.5 64.5 L491.0 66.1 L493.5 67.6 L496.0 69.3 L498.5 71.1 L501.0 73.0 L503.5 75.1 L506.0 77.1 L508.5 79.0 L511.0 80.7 L513.5 82.3 L516.0 83.9 L518.5 85.6 L521.0 87.2 L523.5 89.0 L526.0 90.8 L528.5 92.7 L531.0 94.6 L533.5 96.6 L536.0 98.6 L538.5 100.6 L541.0 102.7 L543.5 104.8 L546.0 106.9 L548.5 109.0 L551.0 111.1 L553.5 113.2 L556.0 115.3 L558.5 117.3 L561.0 119.2 L563.5 121.3 L566.0 123.8 L568.5 126.7 L571.0 129.7 L573.5 132.8 L576.0 136.1 L578.5 139.6 L581.0 143.0 L583.5 146.3 L586.0 149.6 L588.5 152.8 L591.0 156.1 L593.5 159.4 L596.0 162.8 L597.7 165.3 L599.4 167.8 L601.0 170.3 L602.7 172.8 L604.3 175.3 L605.8 177.8 L607.4 180.3 L608.9 182.8 L610.4 185.3 L611.8 187.8 L613.3 190.3 L614.7 192.8 L616.0 195.3 L617.3 197.8 L618.6 200.3 L619.9 202.8 L621.1 205.3 L622.3 207.8 L623.4 210.3 L624.6 212.8 L625.7 215.3 L626.8 217.8 L627.9 220.3 L628.9 222.8 L630.0 225.3 L631.1 227.8 L632.2 230.3 L633.2 232.8 L634.3 235.3 L635.3 237.8 L636.4 240.3 L637.5 242.8 L638.6 245.3 L639.6 247.8 L640.6 250.3 L641.6 252.8 L642.5 255.3 L643.4 257.8 L644.2 260.3 L644.9 262.8 L645.7 265.3 L646.4 267.8 L647.2 270.3 L648.0 272.8 L648.8 275.3 L649.6 277.8 L650.5 280.3 L651.3 282.8 L652.1 285.3 L653.0 287.8 L653.8 290.3 L654.6 292.8 L655.5 295.3 L656.3 297.8 L657.1 300.3 L658.0 302.8 L658.8 305.3 L659.6 307.8 L660.4 310.3 L661.2 312.8 L662.1 315.3 L662.9 317.8 L663.7 320.3 L664.6 322.8 L665.4 325.3 L666.3 327.8 L667.2 330.3 L668.1 332.8 L669.1 335.3 L670.0 337.8 L670.9 340.3 L671.9 342.8 L672.8 345.3 L673.7 347.8 L674.7 350.3 L675.6 352.8 L676.6 355.3 L677.6 357.8 L678.5 360.3 L679.5 362.8 L680.4 365.3 L681.2 367.8 L682.1 370.3 L683.0 372.8 L683.8 375.3 L684.6 377.8 L685.5 380.3 L686.3 382.8 L687.1 385.3 L687.9 387.8 L688.7 390.3 L689.5 392.8 L690.3 395.3 L691.1 397.8 L691.9 400.3 L692.7 402.8 L693.4 405.3 L694.2 407.8 L695.0 410.3 L695.7 412.8 L696.5 415.3 L697.3 417.8 L698.0 420.3 L698.8 422.8 L699.5 425.3 L700.3 427.8 L701.1 430.3 L701.8 432.8 L702.6 435.3 L703.3 437.8 L704.1 440.3 L704.9 442.8 L705.6 445.3 L706.4 447.8 L707.2 450.3 L708.0 452.8 L708.8 455.3 L709.6 457.8 L710.3 460.3 L711.1 462.8 L711.9 465.3 L712.7 467.8 L713.5 470.3 L714.3 472.8 L715.1 475.3 L715.9 477.8 L716.7 480.3 L717.5 482.8 L718.2 485.3 L719.0 487.8 L719.8 490.3 L720.6 492.8 L721.4 495.3 L722.2 497.8 L723.0 500.3 L723.8 502.8 L724.6 505.3 L725.4 507.8 L726.2 510.3 L727.1 512.8 L727.9 515.3 L728.7 517.8 L729.5 520.3 L730.3 522.8 L731.1 525.3 L731.9 527.8 L732.1 528.5" stroke="#007bff"/>
<path d="M173.5 109.7 L176.0 109.7 L178.5 109.8 L181.0 109.8 L183.5 109.8 L186.0 109.8 L188.5 109.9 L191.0 109.9 L193.5 109.9 L196.0 109.9 L198.5 110.0 L201.0 110.0 L203.5 110.0 L206.0 110.0 L208.5 110.1 L211.0 110.1 L213.5 110.1 L216.0 110.1 L218.5 110.1 L221.0 110.1 L223.5 110.2 L226.0 110.2 L228.5 110.2 L231.0 110.2 L233.5 110.2 L236.0 110.2 L238.5 110.2 L241.0 110.2 L243.5 110.2 L246.0 110.2 L248.5 110.3 L251.0 110.3 L253.5 110.3 L256.0 110.3 L258.5 110.3 L261.0 110.3 L263.5 110.3 L266.0 110.3 L268.5 110.3 L271.0 110.3 L273.5 110.3 L276.0 110.4 L278.5 110.4 L281.0 110.4 L283.5 110.4 L286.0 110.4 L288.5 110.4 L291.0 110.4 L293.5 110.3 L296.0 110.2 L298.5 110.1 L301.0 109.9 L303.5 109.7 L306.0 109.5 L308.5 109.3 L311.0 109.2 L313.5 108.9 L316.0 108.7 L318.5 108.4 L321.0 108.2 L323.5 107.9 L326.0 107.6 L328.5 107.3 L331.0 106.9 L333.5 106.6 L336.0 106.2 L338.5 105.9 L341.0 105.5 L343.5 105.1 L346.0 104.6 L348.5 104.1 L351.0 103.5 L353.5 102.9 L356.0 102.1 L358.5 101.2 L361.0 100.2 L363.5 99.0 L366.0 97.9 L368.5 96.7 L371.0 95.5 L373.5 94.1 L376.0 92.8 L378.5 91.4 L381.0 90.0 L383.5 88.6 L386.0 87.1 L388.5 85.7 L391.0 84.2 L393.5 82.8 L396.0 81.4 L398.5 80.1 L401.0 78.8 L403.5 77.6 L406.0 76.5 L408.5 75.3 L411.0 74.2 L413.5 73.1 L416.0 72.1 L418.5 71.1 L421.0 70.1 L423.5 69.2 L426.0 68.3 L428.5 67.5 L431.0 66.6 L433.5 65.7 L436.0 64.7 L438.5 63.6 L441.0 62.7 L443.5 61.8 L446.0 61.0 L448.5 60.2 L451.0 59.5 L453.5 58.9 L456.0 58.5 L458.5 58.2 L461.0 58.0 L463.5 57.8 L466.0 57.9 L468.5 58.2 L471.0 58.6 L473.5 59.1 L476.0 59.8 L478.5 60.6 L481.0 61.6 L483.5 62.6 L486.0 63.9 L488.5 65.4 L491.0 66.9 L493.5 68.5 L496.0 70.2 L498.5 72.0 L501.0 73.9 L503.5 76.0 L506.0 78.1 L508.5 79.9 L511.0 81.6 L513.5 83.2 L516.0 84.8 L518.5 86.4 L521.0 88.0 L523.5 89.8 L526.0 91.6 L528.5 93.5 L531.0 95.4 L533.5 97.3 L536.0 99.3 L538.5 101.3 L541.0 103.3 L543.5 105.4 L546.0 107.4 L548.5 109.5 L551.0 111.6 L553.5 113.7 L556.0 115.7 L558.5 117.7 L561.0 119.6 L563.5 121.7 L566.0 124.2 L568.5 127.0 L571.0 130.0 L573.5 133.1 L576.0 136.4 L578.5 140.0 L581.0 143.4 L583.5 146.8 L586.0 150.0 L588.5 153.2 L591.0 156.5 L593.5 159.8 L596.0 163.2 L597.8 165.7 L599.5 168.2 L601.1 170.7 L602.7 173.2 L604.3 175.7 L605.9 178.2 L607.5 180.7 L609.0 183.2 L610.5 185.7 L611.9 188.2 L613.3 190.7 L614.7 193.2 L616.1 195.7 L617.4 198.2 L618.7 200.7 L619.9 203.2 L621.1 205.7 L622.3 208.2 L623.4 210.7 L624.6 213.2 L625.7 215.7 L626.8 218.2 L627.9 220.7 L629.0 223.2 L630.0 225.7 L631.1 228.2 L632.2 230.7 L633.2 233.2 L634.3 235.7 L635.4 238.2 L636.4 240.7 L637.5 243.2 L638.6 245.7 L639.6 248.2 L640.6 250.7 L641.6 253.2 L642.5 255.7 L643.3 258.2 L644.1 260.7 L644.8 263.2 L645.6 265.7 L646.3 268.2 L647.1 270.7 L647.9 273.2 L648.7 275.7 L649.5 278.2 L650.4 280.7 L651.2 283.2 L652.0 285.7 L652.8 288.2 L653.7 290.7 L654.5 293.2 L655.4 295.7 L656.2 298.2 L657.0 300.7 L657.8 303.2 L658.7 305.7 L659.5 308.2 L660.3 310.7 L661.1 313.2 L662.0 315.7 L662.8 318.2 L663.6 320.7 L664.5 323.2 L665.4 325.7 L666.3 328.2 L667.2 330.7 L668.1 333.2 L669.0 335.7 L670.0 338.2 L670.9 340.7 L671.9 343.2 L672.8 345.7 L673.8 348.2 L674.7 350.7 L675.7 353.2 L676.7 355.7 L677.6 358.2 L678.6 360.7 L679.5 363.2 L680.4 365.7 L681.3 368.2 L682.2 370.7 L683.0 373.2 L683.9 375.7 L684.7 378.2 L685.5 380.7 L686.3 383.2 L687.1 385.7 L687.9 388.2 L688.7 390.7 L689.6 393.2 L690.3 395.7 L691.1 398.2 L691.9 400.7 L692.7 403.2 L693.5 405.7 L694.2 408.2 L695.0 410.7 L695.8 413.2 L696.5 415.7 L697.3 418.2 L698.1 420.7 L698.8 423.2 L699.6 425.7 L700.3 428.2 L701.1 430.7 L701.8 433.2 L702.6 435.7 L703.4 438.2 L704.1 440.7 L704.9 443.2 L705.7 445.7 L706.5 448.2 L707.2 450.7 L708.0 453.2 L708.8 455.7 L709.6 458.2 L710.4 460.7 L711.2 463.2 L711.9 465.7 L712.7 468.2 L713.5 470.7 L714.3 473.2 L715.1 475.7 L715.9 478.2 L716.7 480.7 L717.5 483.2 L718.3 485.7 L719.1 488.2 L719.9 490.7 L720.7 493.2 L721.5 495.7 L722.3 498.2 L723.1 500.7 L723.9 503.2 L724.7 505.7 L725.5 508.2 L726.3 510.7 L727.1 513.2 L727.9 515.7 L728.7 518.2 L729.5 520.7 L730.3 523.2 L731.1 525.7 L731.9 528.2 L732.0 528.5" stroke="#008eff"/>
<path d="M173.5 111.8 L176.0 111.8 L178.5 111.9 L181.0 111.9 L183.5 111.9 L186.0 111.9 L188.5 112.0 L191.0 112.0 L193.5 112.0 L196.0 112.0 L198.5 112.0 L201.0 112.1 L203.5 112.1 L206.0 112.1 L208.5 112.1 L211.0 112.1 L213.5 112.2 L216.0 112.2 L218.5 112.2 L221.0 112.2 L223.5 112.2 L226.0 112.2 L228.5 112.2 L231.0 112.2 L233.5 112.2 L236.0 112.2 L238.5 112.2 L241.0 112.2 L243.5 112.2 L246.0 112.2 L248.5 112.2 L251.0 112.2 L253.5 112.2 L256.0 112.2 L258.5 112.2 L261.0 112.2 L263.5 112.2 L266.0 112.2 L268.5 112.2 L271.0 112.2 L273.5 112.2 L276.0 112.2 L278.5 112.2 L281.0 112.2 L283.5 112.2 L286.0 112.2 L288.5 112.2 L291.0 112.2 L293.5 112.1 L296.0 112.0 L298.5 111.9 L301.0 111.7 L303.5 111.5 L306.0 111.3 L308.5 111.1 L311.0 110.9 L313.5 110.7 L316.0 110.5 L318.5 110.2 L321.0 110.0 L323.5 109.7 L326.0 109.4 L328.5 109.1 L331.0 108.8 L333.5 108.4 L336.0 108.1 L338.5 107.7 L341.0 107.3 L343.5 107.0 L346.0 106.5 L348.5 106.0 L351.0 105.5 L353.5 104.9 L356.0 104.1 L358.5 103.2 L361.0 102.1 L363.5 101.0 L366.0 99.8 L368.5 98.6 L371.0 97.3 L373.5 96.0 L376.0 94.5 L378.5 93.1 L381.0 91.7 L383.5 90.2 L386.0 88.7 L388.5 87.2 L391.0 85.7 L393.5 84.2 L396.0 82.8 L398.5 81.4 L401.0 80.2 L403.5 78.9 L406.0 77.7 L408.5 76.5 L411.0 75.4 L413.5 74.3 L416.0 73.2 L418.5 72.2 L421.0 71.2 L423.5 70.3 L426.0 69.4 L428.5 68.5 L431.0 67.7 L433.5 66.7 L436.0 65.7 L438.5 64.6 L441.0 63.6 L443.5 62.7 L446.0 61.9 L448.5 61.1 L451.0 60.4 L453.5 59.7 L456.0 59.3 L458.5 59.0 L461.0 58.8 L463.5 58.6 L466.0 58.6 L468.5 58.9 L471.0 59.4 L473.5 59.9 L476.0 60.6 L478.5 61.4 L481.0 62.4 L483.5 63.5 L486.0 64.7 L488.5 66.2 L491.0 67.8 L493.5 69.4 L496.0 71.1 L498.5 72.9 L501.0 74.8 L503.5 76.9 L506.0 79.0 L508.5 80.8 L511.0 82.5 L513.5 84.1 L516.0 85.7 L518.5 87.2 L521.0 88.9 L523.5 90.6 L526.0 92.4 L528.5 94.2 L531.0 96.1 L533.5 98.0 L536.0 100.0 L538.5 102.0 L541.0 103.9 L543.5 105.9 L546.0 108.0 L548.5 110.0 L551.0 112.1 L553.5 114.1 L556.0 116.2 L558.5 118.1 L561.0 120.0 L563.5 122.1 L566.0 124.6 L568.5 127.4 L571.0 130.4 L573.5 133.5 L576.0 136.8 L578.5 140.3 L581.0 143.8 L583.5 147.1 L586.0 150.4 L588.5 153.6 L591.0 156.9 L593.5 160.2 L596.0 163.5 L597.8 166.0 L599.5 168.5 L601.2 171.0 L602.8 173.5 L604.4 176.0 L606.0 178.5 L607.5 181.0 L609.0 183.5 L610.5 186.0 L612.0 188.5 L613.4 191.0 L614.8 193.5 L616.1 196.0 L617.4 198.5 L618.7 201.0 L619.9 203.5 L621.1 206.0 L622.3 208.5 L623.5 211.0 L624.6 213.5 L625.7 216.0 L626.8 218.5 L627.9 221.0 L629.0 223.5 L630.1 226.0 L631.1 228.5 L632.2 231.0 L633.3 233.5 L634.3 236.0 L635.4 238.5 L636.5 241.0 L637.5 243.5 L638.6 246.0 L639.6 248.5 L640.6 251.0 L641.5 253.5 L642.4 256.0 L643.2 258.5 L644.0 261.0 L644.7 263.5 L645.5 266.0 L646.2 268.5 L647.0 271.0 L647.8 273.5 L648.6 276.0 L649.4 278.5 L650.2 281.0 L651.1 283.5 L651.9 286.0 L652.7 288.5 L653.6 291.0 L654.4 293.5 L655.2 296.0 L656.1 298.5 L656.9 301.0 L657.7 303.5 L658.6 306.0 L659.4 308.5 L660.2 311.0 L661.0 313.5 L661.8 316.0 L662.7 318.5 L663.5 321.0 L664.4 323.5 L665.3 326.0 L666.2 328.5 L667.1 331.0 L668.1 333.5 L669.0 336.0 L670.0 338.5 L670.9 341.0 L671.9 343.5 L672.9 346.0 L673.8 348.5 L674.8 351.0 L675.8 353.5 L676.7 356.0 L677.7 358.5 L678.6 361.0 L679.6 363.5 L680.5 366.0 L681.3 368.5 L682.2 371.0 L683.0 373.5 L683.9 376.0 L684.7 378.5 L685.5 381.0 L686.4 383.5 L687.2 386.0 L688.0 388.5 L688.8 391.0 L689.6 393.5 L690.4 396.0 L691.2 398.5 L691.9 401.0 L692.7 403.5 L693.5 406.0 L694.3 408.5 L695.0 411.0 L695.8 413.5 L696.6 416.0 L697.3 418.5 L698.1 421.0 L698.8 423.5 L699.6 426.0 L700.4 428.5 L701.1 431.0 L701.9 433.5 L702.6 436.0 L703.4 438.5 L704.2 441.0 L704.9 443.5 L705.7 446.0 L706.5 448.5 L707.3 451.0 L708.0 453.5 L708.8 456.0 L709.6 458.5 L710.4 461.0 L711.2 463.5 L712.0 466.0 L712.8 468.5 L713.6 471.0 L714.3 473.5 L715.1 476.0 L715.9 478.5 L716.7 481.0 L717.5 483.5 L718.3 486.0 L719.1 488.5 L719.9 491.0 L720.7 493.5 L721.5 496.0 L722.3 498.5 L723.1 501.0 L723.9 503.5 L724.7 506.0 L725.5 508.5 L726.3 511.0 L727.1 513.5 L727.9 516.0 L728.7 518.5 L729.5 521.0 L730.4 523.5 L731.2 526.0 L732.0 528.5" stroke="#00a0ff"/>
</g>
<path d="M562.4 3 L733.8 528" stroke="#111" stroke-width="1" fill="none" stroke-dasharray="30 3.3 6 3.3"/>
<g fill="none" stroke-width="2.7" stroke-dasharray="2.7 4.5">
<path d="M446.4 370.2 L448.4 372.7 L450.4 375.2 L452.4 377.6 L454.4 379.8 L456.4 382.0 L458.4 384.0 L460.4 385.8 L462.4 387.6 L464.4 389.3 L466.4 390.9 L468.4 392.5 L470.4 393.9 L472.4 395.3 L474.4 396.6 L476.4 397.7 L478.4 398.7 L480.4 399.6 L482.4 400.4 L484.4 401.2 L486.4 401.9 L488.4 402.6 L490.4 403.2 L492.4 403.7 L494.4 404.2 L496.4 404.6 L498.4 405.1 L500.4 405.5 L502.4 405.9 L504.4 406.3 L506.4 406.7 L508.4 407.0 L510.4 407.3 L512.4 407.7 L514.4 408.0 L516.4 408.3 L518.4 408.6 L520.4 408.8 L522.4 409.1 L524.4 409.3 L526.4 409.6 L528.4 409.8 L530.4 410.0 L532.4 410.2 L534.4 410.4 L536.4 410.6 L538.4 410.8 L540.4 411.0 L542.4 411.2 L544.4 411.3 L546.4 411.5 L548.4 411.6 L550.4 411.8 L552.4 411.9 L554.4 412.0 L556.4 412.1 L558.4 412.3 L560.4 412.4 L562.4 412.5 L564.4 412.6 L566.4 412.7 L568.4 412.8 L570.4 412.9 L572.4 413.0 L574.4 413.1 L576.4 413.3 L578.4 413.4 L580.4 413.5 L582.4 413.6 L584.4 413.8 L586.4 413.9 L588.4 414.0 L590.4 414.2 L592.4 414.3 L594.4 414.4 L596.4 414.5 L598.4 414.6 L600.4 414.7 L602.4 414.8 L604.4 414.9 L606.4 415.0 L608.4 415.1 L610.4 415.2 L612.4 415.2 L614.4 415.3 L616.4 415.3 L618.4 415.4 L620.4 415.4 L622.4 415.5 L624.4 415.5 L626.4 415.5 L628.4 415.6 L630.4 415.6 L632.4 415.7 L634.4 415.8 L636.4 415.9 L638.4 415.9 L640.4 416.1 L642.4 416.2 L644.4 416.4 L646.4 416.6 L648.4 416.9 L650.4 417.1 L652.4 417.4 L654.4 417.7 L656.4 418.0 L658.4 418.3 L660.4 418.6 L662.4 418.9 L664.4 419.2 L666.4 419.5 L668.4 419.8 L670.4 420.2 L672.4 420.5 L674.4 420.9 L676.4 421.3 L678.4 421.7 L680.4 422.0 L682.4 422.4 L684.4 422.8 L686.4 423.2 L688.4 423.5 L690.4 423.9 L692.4 424.2 L694.4 424.5 L696.4 424.9 L698.4 425.2 L700.4 425.6 L702.4 426.0 L704.4 426.4 L706.4 426.8 L708.4 427.3 L710.4 427.7 L712.4 428.1 L714.4 428.6 L716.4 429.0 L718.4 429.4 L720.4 429.8 L722.4 430.1 L724.4 430.5 L726.4 430.8 L728.4 431.1 L730.4 431.4 L732.4 431.6 L734.4 431.9 L736.4 432.2 L738.4 432.5 L740.4 432.8 L742.4 433.1 L744.4 433.4 L746.4 433.8 L748.4 434.1 L750.4 434.4 L752.4 434.8 L754.4 435.1 L756.4 435.5 L758.4 435.9 L760.4 436.2 L762.4 436.6 L764.4 437.0 L766.4 437.3 L768.4 437.7 L770.4 438.0 L772.4 438.4 L774.4 438.7 L776.4 439.0 L778.4 439.3 L780.4 439.6 L782.4 439.9 L784.4 440.2 L786.4 440.5 L788.4 440.7 L790.4 441.0 L792.4 441.2 L794.4 441.5 L796.4 441.8 L798.4 442.0 L800.4 442.3 L802.4 442.5 L804.4 442.8 L806.4 443.0 L808.4 443.3 L810.4 443.5 L812.4 443.8 L814.4 444.0 L816.4 444.3 L818.4 444.5 L820.4 444.8 L822.4 445.0 L824.4 445.3 L826.4 445.6" stroke="#80ff00"/>
<path d="M446.4 379.3 L448.4 381.7 L450.4 384.1 L452.4 386.3 L454.4 388.4 L456.4 390.4 L458.4 392.1 L460.4 393.7 L462.4 395.1 L464.4 396.4 L466.4 397.6 L468.4 398.7 L470.4 399.7 L472.4 400.7 L474.4 401.6 L476.4 402.4 L478.4 403.2 L480.4 403.8 L482.4 404.4 L484.4 404.9 L486.4 405.4 L488.4 405.9 L490.4 406.3 L492.4 406.7 L494.4 407.0 L496.4 407.4 L498.4 407.7 L500.4 408.0 L502.4 408.3 L504.4 408.6 L506.4 408.9 L508.4 409.2 L510.4 409.4 L512.4 409.7 L514.4 409.9 L516.4 410.1 L518.4 410.2 L520.4 410.4 L522.4 410.6 L524.4 410.7 L526.4 410.8 L528.4 410.9 L530.4 411.1 L532.4 411.2 L534.4 411.3 L536.4 411.4 L538.4 411.5 L540.4 411.6 L542.4 411.8 L544.4 411.9 L546.4 412.1 L548.4 412.2 L550.4 412.4 L552.4 412.5 L554.4 412.7 L556.4 412.9 L558.4 413.1 L560.4 413.2 L562.4 413.4 L564.4 413.6 L566.4 413.8 L568.4 414.0 L570.4 414.2 L572.4 414.4 L574.4 414.6 L576.4 414.7 L578.4 414.9 L580.4 415.1 L582.4 415.3 L584.4 415.5 L586.4 415.7 L588.4 415.9 L590.4 416.1 L592.4 416.3 L594.4 416.5 L596.4 416.7 L598.4 417.0 L600.4 417.3 L602.4 417.6 L604.4 417.9 L606.4 418.2 L608.4 418.5 L610.4 418.9 L612.4 419.2 L614.4 419.5 L616.4 419.8 L618.4 420.1 L620.4 420.4 L622.4 420.6 L624.4 420.9 L626.4 421.1 L628.4 421.3 L630.4 421.6 L632.4 421.8 L634.4 422.0 L636.4 422.2 L638.4 422.4 L640.4 422.7 L642.4 422.9 L644.4 423.2 L646.4 423.5 L648.4 423.8 L650.4 424.1 L652.4 424.5 L654.4 424.9 L656.4 425.3 L658.4 425.7 L660.4 426.1 L662.4 426.5 L664.4 427.0 L666.4 427.4 L668.4 427.8 L670.4 428.3 L672.4 428.7 L674.4 429.1 L676.4 429.5 L678.4 429.9 L680.4 430.2 L682.4 430.6 L684.4 431.0 L686.4 431.4 L688.4 431.8 L690.4 432.1 L692.4 432.6 L694.4 433.0 L696.4 433.4 L698.4 433.9 L700.4 434.4 L702.4 434.9 L704.4 435.4 L706.4 435.9 L708.4 436.4 L710.4 436.9 L712.4 437.4 L714.4 437.8 L716.4 438.3 L718.4 438.8 L720.4 439.2 L722.4 439.7 L724.4 440.1 L726.4 440.6 L728.4 441.0 L730.4 441.5 L732.4 441.9 L734.4 442.3 L736.4 442.8 L738.4 443.2 L740.4 443.6 L742.4 444.0 L744.4 444.5 L746.4 444.9 L748.4 445.3 L750.4 445.7 L752.4 446.1 L754.4 446.5 L756.4 446.9 L758.4 447.3 L760.4 447.7 L762.4 448.1 L764.4 448.5 L766.4 448.9 L768.4 449.3 L770.4 449.7 L772.4 450.1 L774.4 450.6 L776.4 451.0 L778.4 451.4 L780.4 451.8 L782.4 452.3 L784.4 452.7 L786.4 453.2 L788.4 453.7 L790.4 454.2 L792.4 454.6 L794.4 455.1 L796.4 455.6 L798.4 456.0 L800.4 456.5 L802.4 457.0 L804.4 457.5 L806.4 457.9 L808.4 458.4 L810.4 458.9 L812.4 459.4 L814.4 459.8 L816.4 460.3 L818.4 460.8 L820.4 461.2 L822.4 461.7 L824.4 462.2 L826.4 462.6" stroke="#ff9010"/>
<path d="M446.8 368.3 L448.8 370.6 L450.8 372.9 L452.8 375.1 L454.8 377.2 L456.8 379.2 L458.8 381.1 L460.8 382.9 L462.8 384.5 L464.8 386.1 L466.8 387.6 L468.8 389.1 L470.8 390.5 L472.8 391.8 L474.8 393.1 L476.8 394.3 L478.8 395.4 L480.8 396.5 L482.8 397.5 L484.8 398.4 L486.8 399.3 L488.8 400.1 L490.8 400.9 L492.8 401.7 L494.8 402.5 L496.8 403.2 L498.8 403.9 L500.8 404.6 L502.8 405.3 L504.8 405.9 L506.8 406.4 L508.8 407.0 L510.8 407.5 L512.8 408.0 L514.8 408.5 L516.8 408.9 L518.8 409.4 L520.8 409.8 L522.8 410.2 L524.8 410.6 L526.8 411.0 L528.8 411.4 L530.8 411.8 L532.8 412.1 L534.8 412.5 L536.8 412.8 L538.8 413.2 L540.8 413.5 L542.8 413.8 L544.8 414.2 L546.8 414.5 L548.8 414.9 L550.8 415.2 L552.8 415.6 L554.8 416.0 L556.8 416.5 L558.8 416.9 L560.8 417.3 L562.8 417.7 L564.8 418.2 L566.8 418.6 L568.8 419.0 L570.8 419.5 L572.8 419.9 L574.8 420.4 L576.8 420.8 L578.8 421.3 L580.8 421.8 L582.8 422.3 L584.8 422.8 L586.8 423.2 L588.8 423.6 L590.8 424.0 L592.8 424.4 L594.8 424.8 L596.8 425.1 L598.8 425.5 L600.8 425.8 L602.8 426.2 L604.8 426.5 L606.8 426.8 L608.8 427.0 L610.8 427.3 L612.8 427.5 L614.8 427.6 L616.8 427.8 L618.8 427.9 L620.8 428.0 L622.8 428.1 L624.8 428.2 L626.8 428.3 L628.8 428.4 L630.8 428.5 L632.8 428.6 L634.8 428.7 L636.8 428.9 L638.8 429.2 L640.8 429.5 L642.8 429.8 L644.8 430.2 L646.8 430.5 L648.8 431.0 L650.8 431.4 L652.8 431.8 L654.8 432.2 L656.8 432.6 L658.8 433.0 L660.8 433.4 L662.8 433.9 L664.8 434.3 L666.8 434.7 L668.8 435.2 L670.8 435.6 L672.8 436.1 L674.8 436.6 L676.8 437.0 L678.8 437.5 L680.8 438.0 L682.8 438.4 L684.8 438.9 L686.8 439.4 L688.8 439.9 L690.8 440.3 L692.8 440.8 L694.8 441.2 L696.8 441.6 L698.8 442.0 L700.8 442.5 L702.8 442.9 L704.8 443.3 L706.8 443.7 L708.8 444.1 L710.8 444.5 L712.8 445.0 L714.8 445.4 L716.8 445.8 L718.8 446.2 L720.8 446.6 L722.8 447.0 L724.8 447.4 L726.8 447.7 L728.8 448.1 L730.8 448.5 L732.8 448.9 L734.8 449.3 L736.8 449.7 L738.8 450.0 L740.8 450.4 L742.8 450.8 L744.8 451.2 L746.8 451.6 L748.8 452.0 L750.8 452.4 L752.8 452.8 L754.8 453.3 L756.8 453.7 L758.8 454.1 L760.8 454.5 L762.8 454.9 L764.8 455.3 L766.8 455.7 L768.8 456.1 L770.8 456.5 L772.8 456.9 L774.8 457.3 L776.8 457.7 L778.8 458.1 L780.8 458.5 L782.8 458.8 L784.8 459.2 L786.8 459.6 L788.8 459.9 L790.8 460.3 L792.8 460.6 L794.8 461.0 L796.8 461.4 L798.8 461.7 L800.8 462.1 L802.8 462.5 L804.8 462.8 L806.8 463.2 L808.8 463.6 L810.8 463.9 L812.8 464.3 L814.8 464.7 L816.8 465.0 L818.8 465.4 L820.8 465.8 L822.8 466.1 L824.8 466.5 L826.8 466.9" stroke="#ff1010"/>
</g>
<circle cx="494" cy="404.4" r="6.7" fill="#000"/>
<g fill="none" stroke-width="2.7" stroke-dasharray="2.7 4.5">
<path d="M489 402.5 L499 406.5" stroke="#80ff00" stroke-dashoffset="2"/>
<path d="M488.5 405.5 L499 408" stroke="#ff9010" stroke-dashoffset="4"/>
<path d="M490 400.3 L500 404.2" stroke="#ff1010" stroke-dashoffset="1"/>
</g>
<circle cx="698.8" cy="425.3" r="3.5" fill="#80ff00"/>
<circle cx="702.3" cy="434.8" r="3.5" fill="#ff9010"/>
<ellipse cx="702" cy="442.5" rx="4.3" ry="3.6" fill="#ff1010"/>
<g stroke="#000" fill="none">
<rect x="87.1" y="1.9" width="741.9" height="526.6" stroke-width="2" stroke-linejoin="round"/>
<path d="M130.4 528.5 v-5.0 M130.4 1.9 v5.0 M173.6 528.5 v-10.0 M173.6 1.9 v10.0 M216.8 528.5 v-5.0 M216.8 1.9 v5.0 M259.9 528.5 v-5.0 M259.9 1.9 v5.0 M303.1 528.5 v-5.0 M303.1 1.9 v5.0 M346.3 528.5 v-10.0 M346.3 1.9 v10.0 M389.4 528.5 v-5.0 M389.4 1.9 v5.0 M432.6 528.5 v-5.0 M432.6 1.9 v5.0 M475.8 528.5 v-5.0 M475.8 1.9 v5.0 M518.9 528.5 v-10.0 M518.9 1.9 v10.0 M562.1 528.5 v-5.0 M562.1 1.9 v5.0 M605.2 528.5 v-5.0 M605.2 1.9 v5.0 M648.4 528.5 v-5.0 M648.4 1.9 v5.0 M691.6 528.5 v-10.0 M691.6 1.9 v10.0 M734.7 528.5 v-5.0 M734.7 1.9 v5.0 M777.9 528.5 v-5.0 M777.9 1.9 v5.0 M821.1 528.5 v-5.0 M821.1 1.9 v5.0 M87.1 507.1 h7.5 M829.0 507.1 h-7.5 M87.1 485.7 h14.5 M829.0 485.7 h-14.5 M87.1 464.3 h7.5 M829.0 464.3 h-7.5 M87.1 442.9 h7.5 M829.0 442.9 h-7.5 M87.1 421.5 h7.5 M829.0 421.5 h-7.5 M87.1 400.1 h14.5 M829.0 400.1 h-14.5 M87.1 378.7 h7.5 M829.0 378.7 h-7.5 M87.1 357.3 h7.5 M829.0 357.3 h-7.5 M87.1 335.9 h7.5 M829.0 335.9 h-7.5 M87.1 314.5 h14.5 M829.0 314.5 h-14.5 M87.1 293.1 h7.5 M829.0 293.1 h-7.5 M87.1 271.8 h7.5 M829.0 271.8 h-7.5 M87.1 250.4 h7.5 M829.0 250.4 h-7.5 M87.1 229.0 h14.5 M829.0 229.0 h-14.5 M87.1 207.6 h7.5 M829.0 207.6 h-7.5 M87.1 186.2 h7.5 M829.0 186.2 h-7.5 M87.1 164.8 h7.5 M829.0 164.8 h-7.5 M87.1 143.4 h14.5 M829.0 143.4 h-14.5 M87.1 122.0 h7.5 M829.0 122.0 h-7.5 M87.1 100.6 h7.5 M829.0 100.6 h-7.5 M87.1 79.2 h7.5 M829.0 79.2 h-7.5 M87.1 57.8 h14.5 M829.0 57.8 h-14.5 M87.1 36.4 h7.5 M829.0 36.4 h-7.5 M87.1 15.0 h7.5 M829.0 15.0 h-7.5" stroke-width="1.8"/>
</g>
<g fill="none">
<path d="M121.2 403.2 H160.6" stroke="#80ff00" stroke-width="2.2" stroke-dasharray="2.2 3.97"/>
<path d="M121.2 424.8 H160.6" stroke="#ff9010" stroke-width="2.2" stroke-dasharray="2.2 3.97"/>
<path d="M121.2 446.5 H160.6" stroke="#ff1010" stroke-width="2.2" stroke-dasharray="2.2 3.97"/>
<path d="M121.1 468.5 H163.1" stroke="#5500aa" stroke-width="1.3"/>
<path d="M121.1 490.4 H163.1" stroke="#00a0ff" stroke-width="1.3"/>
</g>
<g font-family="'Liberation Serif', serif" fill="#000" stroke="#000" stroke-width="0.35" opacity="0.995">
<text x="156.3" y="561.6" font-size="26.5" text-anchor="start" textLength="34.5" lengthAdjust="spacingAndGlyphs" stroke-width="0.40">-20</text>
<text x="329.0" y="561.6" font-size="26.5" text-anchor="start" textLength="34.5" lengthAdjust="spacingAndGlyphs" stroke-width="0.40">-18</text>
<text x="501.6" y="561.6" font-size="26.5" text-anchor="start" textLength="34.5" lengthAdjust="spacingAndGlyphs" stroke-width="0.40">-16</text>
<text x="674.3" y="561.6" font-size="26.5" text-anchor="start" textLength="34.5" lengthAdjust="spacingAndGlyphs" stroke-width="0.40">-14</text>
<text x="67.3" y="66.7" font-size="26.5" text-anchor="start" textLength="12.2" lengthAdjust="spacingAndGlyphs" stroke-width="0.40">0</text>
<text x="58.0" y="152.3" font-size="26.5" text-anchor="start" textLength="21.5" lengthAdjust="spacingAndGlyphs" stroke-width="0.40">-2</text>
<text x="58.0" y="237.9" font-size="26.5" text-anchor="start" textLength="21.5" lengthAdjust="spacingAndGlyphs" stroke-width="0.40">-4</text>
<text x="58.0" y="323.4" font-size="26.5" text-anchor="start" textLength="21.5" lengthAdjust="spacingAndGlyphs" stroke-width="0.40">-6</text>
<text x="58.0" y="409.0" font-size="26.5" text-anchor="start" textLength="21.5" lengthAdjust="spacingAndGlyphs" stroke-width="0.40">-8</text>
<text x="45.0" y="494.6" font-size="26.5" text-anchor="start" textLength="34.5" lengthAdjust="spacingAndGlyphs" stroke-width="0.40">-10</text>
<text x="119.5" y="177.0" font-size="34.5" text-anchor="start" textLength="112.0" lengthAdjust="spacingAndGlyphs" stroke-width="0.55">13503 K</text>
<text x="176.9" y="408.3" font-size="21.0" text-anchor="start" textLength="30.5" lengthAdjust="spacingAndGlyphs" stroke-width="0.28">Mg</text>
<text x="176.9" y="429.5" font-size="21.0" text-anchor="start" textLength="25.5" lengthAdjust="spacingAndGlyphs" stroke-width="0.28">Ca</text>
<text x="176.9" y="451.3" font-size="21.0" text-anchor="start" textLength="22.0" lengthAdjust="spacingAndGlyphs" stroke-width="0.28">Fe</text>
<text x="176.9" y="473.0" font-size="21.0" text-anchor="start" textLength="94.0" lengthAdjust="spacingAndGlyphs" stroke-width="0.28">unfiltered</text>
<text x="176.9" y="495.0" font-size="21.0" text-anchor="start" textLength="122.0" lengthAdjust="spacingAndGlyphs" stroke-width="0.28">most filtered</text>
<text x="666.0" y="54.6" font-size="27.0" text-anchor="start" textLength="13.5" lengthAdjust="spacingAndGlyphs" stroke-width="0.40">v</text>
<text x="681.0" y="41.6" font-size="15.5" text-anchor="start" textLength="8.0" lengthAdjust="spacingAndGlyphs" stroke-width="0.15">2</text>
<text x="680.3" y="60.8" font-size="15.5" text-anchor="start" textLength="8.4" lengthAdjust="spacingAndGlyphs" stroke-width="0.15">z</text>
<circle cx="702.7" cy="47" r="1.3" stroke="none"/>
<text x="720.0" y="54.6" font-size="26.5" text-anchor="start" textLength="61.5" lengthAdjust="spacingAndGlyphs" stroke-width="0.40">0.18 s</text>
<text x="361.9" y="589.6" font-size="27.0" text-anchor="start" textLength="67.6" lengthAdjust="spacingAndGlyphs" stroke-width="0.40">log M</text>
<text x="429.5" y="594.9" font-size="17.0" text-anchor="start" textLength="43.7" lengthAdjust="spacingAndGlyphs" stroke-width="0.15">above</text>
<path d="M482.3 592.6 L494.6 572.6" stroke-width="1.6" fill="none"/>
<text x="503.7" y="589.6" font-size="27.0" text-anchor="start" textLength="22.6" lengthAdjust="spacingAndGlyphs" stroke-width="0.40">M</text>
<text x="526.3" y="594.9" font-size="17.0" text-anchor="start" textLength="27.8" lengthAdjust="spacingAndGlyphs" stroke-width="0.15">star</text>
<g transform="translate(24.8 358.5) rotate(-90)">
<text x="0.0" y="0.0" font-size="27.0" text-anchor="start" textLength="31.3" lengthAdjust="spacingAndGlyphs" stroke-width="0.40">log</text>
<text x="38.6" y="0.0" font-size="27.0" text-anchor="start" textLength="9.5" lengthAdjust="spacingAndGlyphs" stroke-width="0.40">(</text>
<text x="49.3" y="0.0" font-size="27.0" text-anchor="start" textLength="16.2" lengthAdjust="spacingAndGlyphs" stroke-width="0.40">D</text>
<path d="M68.3 5.2 L83.6 -19.3" stroke-width="1.8" fill="none"/>
<text x="88.8" y="0.0" font-size="27.0" text-anchor="start" textLength="21.4" lengthAdjust="spacingAndGlyphs" stroke-width="0.40">[k</text>
<text x="111.5" y="0.0" font-size="27.0" text-anchor="start" textLength="18.6" lengthAdjust="spacingAndGlyphs" stroke-width="0.40">m</text>
<text x="130.6" y="-10.0" font-size="15.5" text-anchor="start" textLength="8.2" lengthAdjust="spacingAndGlyphs" stroke-width="0.15">2</text>
<text x="147.5" y="0.0" font-size="27.0" text-anchor="start" textLength="10.2" lengthAdjust="spacingAndGlyphs" stroke-width="0.40">s</text>
<text x="159.5" y="-10.0" font-size="15.5" text-anchor="start" textLength="11.0" lengthAdjust="spacingAndGlyphs" stroke-width="0.15">-1</text>
<text x="172.4" y="0.0" font-size="27.0" text-anchor="start" textLength="17.0" lengthAdjust="spacingAndGlyphs" stroke-width="0.40">])</text>
</g>
</g>
</svg>
</body></html>
